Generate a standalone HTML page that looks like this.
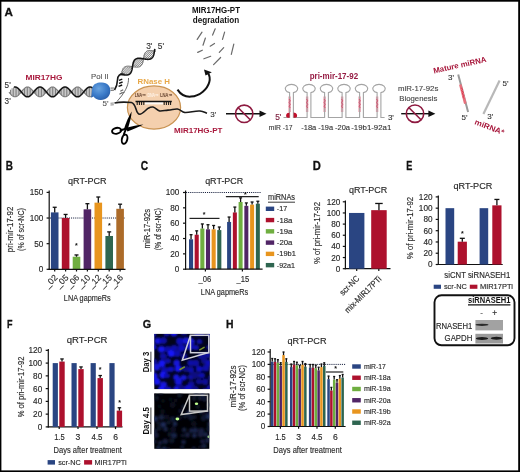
<!DOCTYPE html><html><head><meta charset="utf-8"><style>html,body{margin:0;padding:0;background:#fff;}body{position:relative;width:520px;height:472px;overflow:hidden;}svg{display:block;filter:blur(0.3px);}text{font-family:"Liberation Sans", sans-serif;}</style></head><body>
<svg width="520" height="472" viewBox="0 0 520 472">
<rect x="0.00" y="0.00" width="520.00" height="472.00" fill="#fff" />
<text x="5.80" y="169.90" font-size="12" fill="#111" font-weight="bold" textLength="7.2" lengthAdjust="spacingAndGlyphs" style="stroke:#111;stroke-width:0.3" >B</text>
<text x="87.30" y="183.90" font-size="8.8" fill="#2a2a2a" text-anchor="middle" textLength="38.6" lengthAdjust="spacingAndGlyphs" style="stroke:#2a2a2a;stroke-width:0.15" >qRT-PCR</text>
<line x1="50.00" y1="218.03" x2="125.50" y2="218.03" stroke="#1a2340" stroke-width="1.0" stroke-dasharray="1.1 1.0"/>
<rect x="50.90" y="212.39" width="7.60" height="56.91" fill="#2a4582" />
<line x1="54.70" y1="212.39" x2="54.70" y2="207.27" stroke="#111" stroke-width="1.3" />
<line x1="52.70" y1="207.27" x2="56.70" y2="207.27" stroke="#111" stroke-width="1.3" />
<rect x="61.80" y="218.03" width="7.60" height="51.27" fill="#ad112d" />
<line x1="65.60" y1="218.03" x2="65.60" y2="214.44" stroke="#111" stroke-width="1.3" />
<line x1="63.60" y1="214.44" x2="67.60" y2="214.44" stroke="#111" stroke-width="1.3" />
<rect x="72.70" y="256.74" width="7.60" height="12.56" fill="#6fae40" />
<line x1="76.50" y1="256.74" x2="76.50" y2="254.95" stroke="#111" stroke-width="1.3" />
<line x1="74.50" y1="254.95" x2="78.50" y2="254.95" stroke="#111" stroke-width="1.3" />
<rect x="83.60" y="209.32" width="7.60" height="59.98" fill="#512566" />
<line x1="87.40" y1="209.32" x2="87.40" y2="203.68" stroke="#111" stroke-width="1.3" />
<line x1="85.40" y1="203.68" x2="89.40" y2="203.68" stroke="#111" stroke-width="1.3" />
<rect x="94.50" y="202.65" width="7.60" height="66.65" fill="#e8951e" />
<line x1="98.30" y1="202.65" x2="98.30" y2="197.01" stroke="#111" stroke-width="1.3" />
<line x1="96.30" y1="197.01" x2="100.30" y2="197.01" stroke="#111" stroke-width="1.3" />
<rect x="105.40" y="235.98" width="7.60" height="33.32" fill="#2e6550" />
<line x1="109.20" y1="235.98" x2="109.20" y2="231.88" stroke="#111" stroke-width="1.3" />
<line x1="107.20" y1="231.88" x2="111.20" y2="231.88" stroke="#111" stroke-width="1.3" />
<rect x="116.30" y="208.81" width="7.60" height="60.49" fill="#ac6b29" />
<line x1="120.10" y1="208.81" x2="120.10" y2="204.19" stroke="#111" stroke-width="1.3" />
<line x1="118.10" y1="204.19" x2="122.10" y2="204.19" stroke="#111" stroke-width="1.3" />
<line x1="49.20" y1="190.40" x2="49.20" y2="269.90" stroke="#111" stroke-width="1.2" />
<line x1="46.60" y1="192.40" x2="49.20" y2="192.40" stroke="#111" stroke-width="1.2" />
<text x="43.40" y="195.35" font-size="8.2" fill="#2a2a2a" text-anchor="end" style="stroke:#2a2a2a;stroke-width:0.15" >150</text>
<line x1="46.60" y1="218.03" x2="49.20" y2="218.03" stroke="#111" stroke-width="1.2" />
<text x="43.40" y="220.99" font-size="8.2" fill="#2a2a2a" text-anchor="end" style="stroke:#2a2a2a;stroke-width:0.15" >100</text>
<line x1="46.60" y1="243.67" x2="49.20" y2="243.67" stroke="#111" stroke-width="1.2" />
<text x="43.40" y="246.62" font-size="8.2" fill="#2a2a2a" text-anchor="end" style="stroke:#2a2a2a;stroke-width:0.15" >50</text>
<line x1="46.60" y1="269.30" x2="49.20" y2="269.30" stroke="#111" stroke-width="1.2" />
<text x="43.40" y="272.25" font-size="8.2" fill="#2a2a2a" text-anchor="end" style="stroke:#2a2a2a;stroke-width:0.15" >0</text>
<line x1="48.60" y1="269.30" x2="125.50" y2="269.30" stroke="#111" stroke-width="1.2" />
<line x1="54.70" y1="269.30" x2="54.70" y2="271.50" stroke="#111" stroke-width="1.2" />
<line x1="65.60" y1="269.30" x2="65.60" y2="271.50" stroke="#111" stroke-width="1.2" />
<line x1="76.50" y1="269.30" x2="76.50" y2="271.50" stroke="#111" stroke-width="1.2" />
<line x1="87.40" y1="269.30" x2="87.40" y2="271.50" stroke="#111" stroke-width="1.2" />
<line x1="98.30" y1="269.30" x2="98.30" y2="271.50" stroke="#111" stroke-width="1.2" />
<line x1="109.20" y1="269.30" x2="109.20" y2="271.50" stroke="#111" stroke-width="1.2" />
<line x1="120.10" y1="269.30" x2="120.10" y2="271.50" stroke="#111" stroke-width="1.2" />
<text x="76.40" y="247.60" font-size="7" fill="#111" text-anchor="middle" font-weight="bold" >*</text>
<text x="109.40" y="228.30" font-size="7" fill="#111" text-anchor="middle" font-weight="bold" >*</text>
<text x="58.15" y="278.20" font-size="8.6" fill="#2a2a2a" text-anchor="end" transform="rotate(-45 58.15 278.20)" style="stroke:#2a2a2a;stroke-width:0.15" >_02</text>
<text x="69.05" y="278.20" font-size="8.6" fill="#2a2a2a" text-anchor="end" transform="rotate(-45 69.05 278.20)" style="stroke:#2a2a2a;stroke-width:0.15" >_05</text>
<text x="79.95" y="278.20" font-size="8.6" fill="#2a2a2a" text-anchor="end" transform="rotate(-45 79.95 278.20)" style="stroke:#2a2a2a;stroke-width:0.15" >_06</text>
<text x="90.85" y="278.20" font-size="8.6" fill="#2a2a2a" text-anchor="end" transform="rotate(-45 90.85 278.20)" style="stroke:#2a2a2a;stroke-width:0.15" >_10</text>
<text x="101.75" y="278.20" font-size="8.6" fill="#2a2a2a" text-anchor="end" transform="rotate(-45 101.75 278.20)" style="stroke:#2a2a2a;stroke-width:0.15" >_12</text>
<text x="112.65" y="278.20" font-size="8.6" fill="#2a2a2a" text-anchor="end" transform="rotate(-45 112.65 278.20)" style="stroke:#2a2a2a;stroke-width:0.15" >_15</text>
<text x="123.55" y="278.20" font-size="8.6" fill="#2a2a2a" text-anchor="end" transform="rotate(-45 123.55 278.20)" style="stroke:#2a2a2a;stroke-width:0.15" >_16</text>
<text x="87.30" y="300.50" font-size="9" fill="#2a2a2a" text-anchor="middle" textLength="46.9" lengthAdjust="spacingAndGlyphs" style="stroke:#2a2a2a;stroke-width:0.15" >LNA gapmeRs</text>
<text x="13.30" y="229.40" font-size="9" fill="#2a2a2a" text-anchor="middle" textLength="45.5" lengthAdjust="spacingAndGlyphs" transform="rotate(-90 13.30 229.40)" style="stroke:#2a2a2a;stroke-width:0.15" >pri-mir-17-92</text>
<text x="23.70" y="229.50" font-size="9" fill="#2a2a2a" text-anchor="middle" textLength="42.8" lengthAdjust="spacingAndGlyphs" transform="rotate(-90 23.70 229.50)" style="stroke:#2a2a2a;stroke-width:0.15" >(% of scr-NC)</text>
<text x="140.80" y="169.90" font-size="12" fill="#111" font-weight="bold" textLength="7.4" lengthAdjust="spacingAndGlyphs" style="stroke:#111;stroke-width:0.3" >C</text>
<text x="224.20" y="184.20" font-size="8.8" fill="#2a2a2a" text-anchor="middle" textLength="38.1" lengthAdjust="spacingAndGlyphs" style="stroke:#2a2a2a;stroke-width:0.15" >qRT-PCR</text>
<line x1="186.00" y1="192.50" x2="261.00" y2="192.50" stroke="#1a2340" stroke-width="1.0" stroke-dasharray="1.1 1.0"/>
<rect x="189.00" y="239.29" width="4.10" height="29.91" fill="#2a4582" />
<line x1="191.05" y1="239.29" x2="191.05" y2="234.69" stroke="#111" stroke-width="1.3" />
<line x1="189.55" y1="234.69" x2="192.55" y2="234.69" stroke="#111" stroke-width="1.3" />
<rect x="227.10" y="221.95" width="4.00" height="47.25" fill="#2a4582" />
<line x1="229.10" y1="221.95" x2="229.10" y2="217.04" stroke="#111" stroke-width="1.3" />
<line x1="227.60" y1="217.04" x2="230.60" y2="217.04" stroke="#111" stroke-width="1.3" />
<rect x="194.65" y="234.69" width="4.10" height="34.51" fill="#ad112d" />
<line x1="196.70" y1="234.69" x2="196.70" y2="230.85" stroke="#111" stroke-width="1.3" />
<line x1="195.20" y1="230.85" x2="198.20" y2="230.85" stroke="#111" stroke-width="1.3" />
<rect x="232.85" y="212.44" width="4.00" height="56.76" fill="#ad112d" />
<line x1="234.85" y1="212.44" x2="234.85" y2="207.07" stroke="#111" stroke-width="1.3" />
<line x1="233.35" y1="207.07" x2="236.35" y2="207.07" stroke="#111" stroke-width="1.3" />
<rect x="200.30" y="228.55" width="4.10" height="40.65" fill="#6fae40" />
<line x1="202.35" y1="228.55" x2="202.35" y2="223.95" stroke="#111" stroke-width="1.3" />
<line x1="200.85" y1="223.95" x2="203.85" y2="223.95" stroke="#111" stroke-width="1.3" />
<rect x="238.60" y="202.01" width="4.00" height="67.19" fill="#6fae40" />
<line x1="240.60" y1="202.01" x2="240.60" y2="197.87" stroke="#111" stroke-width="1.3" />
<line x1="239.10" y1="197.87" x2="242.10" y2="197.87" stroke="#111" stroke-width="1.3" />
<rect x="205.95" y="229.32" width="4.10" height="39.88" fill="#512566" />
<line x1="208.00" y1="229.32" x2="208.00" y2="224.71" stroke="#111" stroke-width="1.3" />
<line x1="206.50" y1="224.71" x2="209.50" y2="224.71" stroke="#111" stroke-width="1.3" />
<rect x="244.35" y="205.85" width="4.00" height="63.35" fill="#512566" />
<line x1="246.35" y1="205.85" x2="246.35" y2="202.93" stroke="#111" stroke-width="1.3" />
<line x1="244.85" y1="202.93" x2="247.85" y2="202.93" stroke="#111" stroke-width="1.3" />
<rect x="211.60" y="229.32" width="4.10" height="39.88" fill="#e8951e" />
<line x1="213.65" y1="229.32" x2="213.65" y2="225.48" stroke="#111" stroke-width="1.3" />
<line x1="212.15" y1="225.48" x2="215.15" y2="225.48" stroke="#111" stroke-width="1.3" />
<rect x="250.10" y="204.62" width="4.00" height="64.58" fill="#e8951e" />
<line x1="252.10" y1="204.62" x2="252.10" y2="202.01" stroke="#111" stroke-width="1.3" />
<line x1="250.60" y1="202.01" x2="253.60" y2="202.01" stroke="#111" stroke-width="1.3" />
<rect x="217.25" y="230.08" width="4.10" height="39.12" fill="#2e6550" />
<line x1="219.30" y1="230.08" x2="219.30" y2="227.01" stroke="#111" stroke-width="1.3" />
<line x1="217.80" y1="227.01" x2="220.80" y2="227.01" stroke="#111" stroke-width="1.3" />
<rect x="255.85" y="203.70" width="4.00" height="65.50" fill="#2e6550" />
<line x1="257.85" y1="203.70" x2="257.85" y2="201.24" stroke="#111" stroke-width="1.3" />
<line x1="256.35" y1="201.24" x2="259.35" y2="201.24" stroke="#111" stroke-width="1.3" />
<line x1="185.60" y1="190.60" x2="185.60" y2="269.80" stroke="#111" stroke-width="1.2" />
<line x1="183.00" y1="192.50" x2="185.60" y2="192.50" stroke="#111" stroke-width="1.2" />
<text x="179.40" y="195.45" font-size="8.2" fill="#2a2a2a" text-anchor="end" style="stroke:#2a2a2a;stroke-width:0.15" >100</text>
<line x1="183.00" y1="207.84" x2="185.60" y2="207.84" stroke="#111" stroke-width="1.2" />
<text x="179.40" y="210.79" font-size="8.2" fill="#2a2a2a" text-anchor="end" style="stroke:#2a2a2a;stroke-width:0.15" >80</text>
<line x1="183.00" y1="223.18" x2="185.60" y2="223.18" stroke="#111" stroke-width="1.2" />
<text x="179.40" y="226.13" font-size="8.2" fill="#2a2a2a" text-anchor="end" style="stroke:#2a2a2a;stroke-width:0.15" >60</text>
<line x1="183.00" y1="238.52" x2="185.60" y2="238.52" stroke="#111" stroke-width="1.2" />
<text x="179.40" y="241.47" font-size="8.2" fill="#2a2a2a" text-anchor="end" style="stroke:#2a2a2a;stroke-width:0.15" >40</text>
<line x1="183.00" y1="253.86" x2="185.60" y2="253.86" stroke="#111" stroke-width="1.2" />
<text x="179.40" y="256.81" font-size="8.2" fill="#2a2a2a" text-anchor="end" style="stroke:#2a2a2a;stroke-width:0.15" >20</text>
<line x1="183.00" y1="269.20" x2="185.60" y2="269.20" stroke="#111" stroke-width="1.2" />
<text x="179.40" y="272.15" font-size="8.2" fill="#2a2a2a" text-anchor="end" style="stroke:#2a2a2a;stroke-width:0.15" >0</text>
<line x1="185.00" y1="269.20" x2="262.60" y2="269.20" stroke="#111" stroke-width="1.2" />
<line x1="205.40" y1="269.20" x2="205.40" y2="271.40" stroke="#111" stroke-width="1.2" />
<line x1="242.40" y1="269.20" x2="242.40" y2="271.40" stroke="#111" stroke-width="1.2" />
<line x1="189.50" y1="218.40" x2="219.50" y2="218.40" stroke="#222" stroke-width="1.2" />
<text x="204.20" y="217.40" font-size="7" fill="#111" text-anchor="middle" font-weight="bold" >*</text>
<line x1="225.90" y1="196.60" x2="258.70" y2="196.60" stroke="#222" stroke-width="1.2" />
<text x="245.40" y="196.60" font-size="7" fill="#111" text-anchor="middle" font-weight="bold" >*</text>
<text x="204.80" y="282.00" font-size="8.6" fill="#2a2a2a" text-anchor="middle" textLength="12.7" lengthAdjust="spacingAndGlyphs" style="stroke:#2a2a2a;stroke-width:0.15" >_06</text>
<text x="242.80" y="282.00" font-size="8.6" fill="#2a2a2a" text-anchor="middle" textLength="12.7" lengthAdjust="spacingAndGlyphs" style="stroke:#2a2a2a;stroke-width:0.15" >_15</text>
<text x="224.50" y="294.60" font-size="9" fill="#2a2a2a" text-anchor="middle" textLength="47.3" lengthAdjust="spacingAndGlyphs" style="stroke:#2a2a2a;stroke-width:0.15" >LNA gapmeRs</text>
<text x="149.90" y="228.60" font-size="9" fill="#2a2a2a" text-anchor="middle" textLength="39.6" lengthAdjust="spacingAndGlyphs" transform="rotate(-90 149.90 228.60)" style="stroke:#2a2a2a;stroke-width:0.15" >miR-17-92s</text>
<text x="160.60" y="229.20" font-size="9" fill="#2a2a2a" text-anchor="middle" textLength="42" lengthAdjust="spacingAndGlyphs" transform="rotate(-90 160.60 229.20)" style="stroke:#2a2a2a;stroke-width:0.15" >(% of scr-NC)</text>
<text x="268.00" y="199.80" font-size="8.6" fill="#2a2a2a" textLength="27" lengthAdjust="spacingAndGlyphs" style="stroke:#2a2a2a;stroke-width:0.15" >miRNAs</text>
<line x1="268.00" y1="202.20" x2="295.00" y2="202.20" stroke="#222" stroke-width="0.9" />
<rect x="265.80" y="206.60" width="8.40" height="4.40" fill="#2a4582" />
<text x="276.80" y="211.30" font-size="7.9" fill="#2a2a2a" textLength="10.4" lengthAdjust="spacingAndGlyphs" style="stroke:#2a2a2a;stroke-width:0.15" >-17</text>
<rect x="265.80" y="217.87" width="8.40" height="4.40" fill="#ad112d" />
<text x="276.80" y="222.57" font-size="7.9" fill="#2a2a2a" textLength="15.6" lengthAdjust="spacingAndGlyphs" style="stroke:#2a2a2a;stroke-width:0.15" >-18a</text>
<rect x="265.80" y="229.14" width="8.40" height="4.40" fill="#6fae40" />
<text x="276.80" y="233.84" font-size="7.9" fill="#2a2a2a" textLength="15.6" lengthAdjust="spacingAndGlyphs" style="stroke:#2a2a2a;stroke-width:0.15" >-19a</text>
<rect x="265.80" y="240.41" width="8.40" height="4.40" fill="#512566" />
<text x="276.80" y="245.11" font-size="7.9" fill="#2a2a2a" textLength="15.6" lengthAdjust="spacingAndGlyphs" style="stroke:#2a2a2a;stroke-width:0.15" >-20a</text>
<rect x="265.80" y="251.68" width="8.40" height="4.40" fill="#e8951e" />
<text x="276.80" y="256.38" font-size="7.9" fill="#2a2a2a" textLength="19.1" lengthAdjust="spacingAndGlyphs" style="stroke:#2a2a2a;stroke-width:0.15" >-19b1</text>
<rect x="265.80" y="262.95" width="8.40" height="4.40" fill="#2e6550" />
<text x="276.80" y="267.65" font-size="7.9" fill="#2a2a2a" textLength="18.2" lengthAdjust="spacingAndGlyphs" style="stroke:#2a2a2a;stroke-width:0.15" >-92a1</text>
<text x="312.80" y="169.80" font-size="12" fill="#111" font-weight="bold" textLength="8.1" lengthAdjust="spacingAndGlyphs" style="stroke:#111;stroke-width:0.3" >D</text>
<text x="368.20" y="192.70" font-size="8.8" fill="#2a2a2a" text-anchor="middle" textLength="38.3" lengthAdjust="spacingAndGlyphs" style="stroke:#2a2a2a;stroke-width:0.15" >qRT-PCR</text>
<line x1="345.40" y1="200.40" x2="345.40" y2="269.30" stroke="#111" stroke-width="1.2" />
<line x1="342.80" y1="201.80" x2="345.40" y2="201.80" stroke="#111" stroke-width="1.2" />
<text x="340.30" y="204.75" font-size="8.2" fill="#2a2a2a" text-anchor="end" style="stroke:#2a2a2a;stroke-width:0.15" >120</text>
<line x1="342.80" y1="212.95" x2="345.40" y2="212.95" stroke="#111" stroke-width="1.2" />
<text x="340.30" y="215.90" font-size="8.2" fill="#2a2a2a" text-anchor="end" style="stroke:#2a2a2a;stroke-width:0.15" >100</text>
<line x1="342.80" y1="224.10" x2="345.40" y2="224.10" stroke="#111" stroke-width="1.2" />
<text x="340.30" y="227.05" font-size="8.2" fill="#2a2a2a" text-anchor="end" style="stroke:#2a2a2a;stroke-width:0.15" >80</text>
<line x1="342.80" y1="235.25" x2="345.40" y2="235.25" stroke="#111" stroke-width="1.2" />
<text x="340.30" y="238.20" font-size="8.2" fill="#2a2a2a" text-anchor="end" style="stroke:#2a2a2a;stroke-width:0.15" >60</text>
<line x1="342.80" y1="246.40" x2="345.40" y2="246.40" stroke="#111" stroke-width="1.2" />
<text x="340.30" y="249.35" font-size="8.2" fill="#2a2a2a" text-anchor="end" style="stroke:#2a2a2a;stroke-width:0.15" >40</text>
<line x1="342.80" y1="257.55" x2="345.40" y2="257.55" stroke="#111" stroke-width="1.2" />
<text x="340.30" y="260.50" font-size="8.2" fill="#2a2a2a" text-anchor="end" style="stroke:#2a2a2a;stroke-width:0.15" >20</text>
<line x1="342.80" y1="268.70" x2="345.40" y2="268.70" stroke="#111" stroke-width="1.2" />
<text x="340.30" y="271.65" font-size="8.2" fill="#2a2a2a" text-anchor="end" style="stroke:#2a2a2a;stroke-width:0.15" >0</text>
<line x1="344.80" y1="268.70" x2="390.50" y2="268.70" stroke="#111" stroke-width="1.2" />
<line x1="356.70" y1="268.70" x2="356.70" y2="270.90" stroke="#111" stroke-width="1.2" />
<line x1="378.80" y1="268.70" x2="378.80" y2="270.90" stroke="#111" stroke-width="1.2" />
<rect x="349.00" y="212.95" width="15.40" height="55.75" fill="#2a4582" />
<rect x="371.20" y="210.16" width="15.50" height="58.54" fill="#ad112d" />
<line x1="378.95" y1="210.16" x2="378.95" y2="203.47" stroke="#111" stroke-width="1.3" />
<line x1="375.20" y1="203.47" x2="382.70" y2="203.47" stroke="#111" stroke-width="1.3" />
<text x="319.60" y="233.00" font-size="9.5" fill="#2a2a2a" text-anchor="middle" textLength="62" lengthAdjust="spacingAndGlyphs" transform="rotate(-90 319.60 233.00)" style="stroke:#2a2a2a;stroke-width:0.15" >% of pri-mir-17-92</text>
<text x="360.00" y="279.00" font-size="8.6" fill="#2a2a2a" text-anchor="end" textLength="24" lengthAdjust="spacingAndGlyphs" transform="rotate(-45 360.00 279.00)" style="stroke:#2a2a2a;stroke-width:0.15" >scr-NC</text>
<text x="382.00" y="279.50" font-size="8.6" fill="#2a2a2a" text-anchor="end" textLength="48" lengthAdjust="spacingAndGlyphs" transform="rotate(-45 382.00 279.50)" style="stroke:#2a2a2a;stroke-width:0.15" >mix-MIR17PTi</text>
<text x="406.30" y="169.80" font-size="12" fill="#111" font-weight="bold" textLength="6.1" lengthAdjust="spacingAndGlyphs" style="stroke:#111;stroke-width:0.3" >E</text>
<text x="472.90" y="188.80" font-size="8.8" fill="#2a2a2a" text-anchor="middle" textLength="38.8" lengthAdjust="spacingAndGlyphs" style="stroke:#2a2a2a;stroke-width:0.15" >qRT-PCR</text>
<line x1="438.30" y1="195.50" x2="438.30" y2="265.10" stroke="#111" stroke-width="1.2" />
<line x1="435.70" y1="196.90" x2="438.30" y2="196.90" stroke="#111" stroke-width="1.2" />
<text x="432.50" y="199.85" font-size="8.2" fill="#2a2a2a" text-anchor="end" style="stroke:#2a2a2a;stroke-width:0.15" >120</text>
<line x1="435.70" y1="208.17" x2="438.30" y2="208.17" stroke="#111" stroke-width="1.2" />
<text x="432.50" y="211.12" font-size="8.2" fill="#2a2a2a" text-anchor="end" style="stroke:#2a2a2a;stroke-width:0.15" >100</text>
<line x1="435.70" y1="219.43" x2="438.30" y2="219.43" stroke="#111" stroke-width="1.2" />
<text x="432.50" y="222.39" font-size="8.2" fill="#2a2a2a" text-anchor="end" style="stroke:#2a2a2a;stroke-width:0.15" >80</text>
<line x1="435.70" y1="230.70" x2="438.30" y2="230.70" stroke="#111" stroke-width="1.2" />
<text x="432.50" y="233.65" font-size="8.2" fill="#2a2a2a" text-anchor="end" style="stroke:#2a2a2a;stroke-width:0.15" >60</text>
<line x1="435.70" y1="241.97" x2="438.30" y2="241.97" stroke="#111" stroke-width="1.2" />
<text x="432.50" y="244.92" font-size="8.2" fill="#2a2a2a" text-anchor="end" style="stroke:#2a2a2a;stroke-width:0.15" >40</text>
<line x1="435.70" y1="253.23" x2="438.30" y2="253.23" stroke="#111" stroke-width="1.2" />
<text x="432.50" y="256.19" font-size="8.2" fill="#2a2a2a" text-anchor="end" style="stroke:#2a2a2a;stroke-width:0.15" >20</text>
<line x1="435.70" y1="264.50" x2="438.30" y2="264.50" stroke="#111" stroke-width="1.2" />
<text x="432.50" y="267.45" font-size="8.2" fill="#2a2a2a" text-anchor="end" style="stroke:#2a2a2a;stroke-width:0.15" >0</text>
<line x1="437.70" y1="264.50" x2="502.70" y2="264.50" stroke="#111" stroke-width="1.2" />
<rect x="445.50" y="208.17" width="8.70" height="56.33" fill="#2a4582" />
<rect x="457.70" y="241.69" width="9.20" height="22.81" fill="#ad112d" />
<line x1="462.30" y1="241.69" x2="462.30" y2="238.31" stroke="#111" stroke-width="1.3" />
<line x1="459.80" y1="238.31" x2="464.80" y2="238.31" stroke="#111" stroke-width="1.3" />
<rect x="479.60" y="208.17" width="8.60" height="56.33" fill="#2a4582" />
<rect x="492.30" y="205.35" width="9.20" height="59.15" fill="#ad112d" />
<line x1="496.90" y1="205.35" x2="496.90" y2="199.44" stroke="#111" stroke-width="1.3" />
<line x1="494.40" y1="199.44" x2="499.40" y2="199.44" stroke="#111" stroke-width="1.3" />
<text x="462.30" y="236.00" font-size="7" fill="#111" text-anchor="middle" font-weight="bold" >*</text>
<text x="477.30" y="277.70" font-size="8.6" fill="#2a2a2a" text-anchor="middle" textLength="66" lengthAdjust="spacingAndGlyphs" style="stroke:#2a2a2a;stroke-width:0.15" >siCNT siRNASEH1</text>
<text x="413.20" y="228.00" font-size="9.5" fill="#2a2a2a" text-anchor="middle" textLength="62.3" lengthAdjust="spacingAndGlyphs" transform="rotate(-90 413.20 228.00)" style="stroke:#2a2a2a;stroke-width:0.15" >% of pri-mir-17-92</text>
<rect x="433.70" y="284.70" width="7.30" height="4.10" fill="#2a4582" />
<text x="443.90" y="288.80" font-size="8" fill="#2a2a2a" textLength="23" lengthAdjust="spacingAndGlyphs" style="stroke:#2a2a2a;stroke-width:0.15" >scr-NC</text>
<rect x="469.80" y="284.70" width="7.60" height="4.10" fill="#ad112d" />
<text x="479.90" y="288.80" font-size="8" fill="#2a2a2a" textLength="33" lengthAdjust="spacingAndGlyphs" style="stroke:#2a2a2a;stroke-width:0.15" >MIR17PTi</text>
<rect x="434.5" y="295.3" width="80" height="50" rx="7" ry="7" fill="none" stroke="#111" stroke-width="1.9"/>
<text x="489.20" y="302.70" font-size="8.4" fill="#111" text-anchor="middle" font-weight="bold" textLength="42.4" lengthAdjust="spacingAndGlyphs" >siRNASEH1</text>
<line x1="468.00" y1="304.80" x2="510.40" y2="304.80" stroke="#111" stroke-width="1.3" />
<text x="481.50" y="314.80" font-size="8" fill="#2a2a2a" text-anchor="middle" style="stroke:#2a2a2a;stroke-width:0.15" >-</text>
<text x="494.60" y="315.50" font-size="8.4" fill="#2a2a2a" text-anchor="middle" style="stroke:#2a2a2a;stroke-width:0.15" >+</text>
<text x="472.30" y="328.80" font-size="8.8" fill="#2a2a2a" text-anchor="end" textLength="36.3" lengthAdjust="spacingAndGlyphs" style="stroke:#2a2a2a;stroke-width:0.15" >RNASEH1</text>
<text x="472.30" y="341.20" font-size="8.8" fill="#2a2a2a" text-anchor="end" textLength="27.7" lengthAdjust="spacingAndGlyphs" style="stroke:#2a2a2a;stroke-width:0.15" >GAPDH</text>
<rect x="475.40" y="320.00" width="27.60" height="10.40" fill="#a2a2a2" />
<rect x="475.40" y="333.80" width="27.60" height="9.70" fill="#9a9a9a" />
<ellipse cx="482" cy="324.8" rx="6.5" ry="1.1" fill="#2a2a2a"/>
<ellipse cx="482" cy="338.5" rx="6.2" ry="1.5" fill="#1a1a1a"/>
<ellipse cx="496.5" cy="338.3" rx="5.8" ry="1.5" fill="#1a1a1a"/>
<text x="6.90" y="327.90" font-size="11.3" fill="#111" font-weight="bold" textLength="5.5" lengthAdjust="spacingAndGlyphs" style="stroke:#111;stroke-width:0.3" >F</text>
<text x="87.10" y="342.60" font-size="8.8" fill="#2a2a2a" text-anchor="middle" textLength="40.6" lengthAdjust="spacingAndGlyphs" style="stroke:#2a2a2a;stroke-width:0.15" >qRT-PCR</text>
<line x1="48.30" y1="349.00" x2="48.30" y2="427.50" stroke="#111" stroke-width="1.2" />
<line x1="45.70" y1="350.34" x2="48.30" y2="350.34" stroke="#111" stroke-width="1.2" />
<text x="42.20" y="353.29" font-size="8.2" fill="#2a2a2a" text-anchor="end" style="stroke:#2a2a2a;stroke-width:0.15" >120</text>
<line x1="45.70" y1="363.10" x2="48.30" y2="363.10" stroke="#111" stroke-width="1.2" />
<text x="42.20" y="366.05" font-size="8.2" fill="#2a2a2a" text-anchor="end" style="stroke:#2a2a2a;stroke-width:0.15" >100</text>
<line x1="45.70" y1="375.86" x2="48.30" y2="375.86" stroke="#111" stroke-width="1.2" />
<text x="42.20" y="378.81" font-size="8.2" fill="#2a2a2a" text-anchor="end" style="stroke:#2a2a2a;stroke-width:0.15" >80</text>
<line x1="45.70" y1="388.62" x2="48.30" y2="388.62" stroke="#111" stroke-width="1.2" />
<text x="42.20" y="391.57" font-size="8.2" fill="#2a2a2a" text-anchor="end" style="stroke:#2a2a2a;stroke-width:0.15" >60</text>
<line x1="45.70" y1="401.38" x2="48.30" y2="401.38" stroke="#111" stroke-width="1.2" />
<text x="42.20" y="404.33" font-size="8.2" fill="#2a2a2a" text-anchor="end" style="stroke:#2a2a2a;stroke-width:0.15" >40</text>
<line x1="45.70" y1="414.14" x2="48.30" y2="414.14" stroke="#111" stroke-width="1.2" />
<text x="42.20" y="417.09" font-size="8.2" fill="#2a2a2a" text-anchor="end" style="stroke:#2a2a2a;stroke-width:0.15" >20</text>
<line x1="45.70" y1="426.90" x2="48.30" y2="426.90" stroke="#111" stroke-width="1.2" />
<text x="42.20" y="429.85" font-size="8.2" fill="#2a2a2a" text-anchor="end" style="stroke:#2a2a2a;stroke-width:0.15" >0</text>
<line x1="47.70" y1="426.90" x2="122.50" y2="426.90" stroke="#111" stroke-width="1.2" />
<line x1="59.20" y1="426.90" x2="59.20" y2="429.10" stroke="#111" stroke-width="1.2" />
<line x1="78.00" y1="426.90" x2="78.00" y2="429.10" stroke="#111" stroke-width="1.2" />
<line x1="97.00" y1="426.90" x2="97.00" y2="429.10" stroke="#111" stroke-width="1.2" />
<line x1="115.50" y1="426.90" x2="115.50" y2="429.10" stroke="#111" stroke-width="1.2" />
<rect x="52.70" y="363.10" width="5.20" height="63.80" fill="#2a4582" />
<rect x="59.30" y="361.57" width="5.40" height="65.33" fill="#ad112d" />
<line x1="62.00" y1="361.57" x2="62.00" y2="358.95" stroke="#111" stroke-width="1.3" />
<line x1="60.25" y1="358.95" x2="63.75" y2="358.95" stroke="#111" stroke-width="1.3" />
<rect x="71.50" y="363.10" width="5.20" height="63.80" fill="#2a4582" />
<rect x="78.30" y="369.10" width="5.40" height="57.80" fill="#ad112d" />
<line x1="81.00" y1="369.10" x2="81.00" y2="366.93" stroke="#111" stroke-width="1.3" />
<line x1="79.25" y1="366.93" x2="82.75" y2="366.93" stroke="#111" stroke-width="1.3" />
<rect x="90.60" y="363.10" width="5.20" height="63.80" fill="#2a4582" />
<rect x="97.50" y="378.09" width="5.40" height="48.81" fill="#ad112d" />
<line x1="100.20" y1="378.09" x2="100.20" y2="375.54" stroke="#111" stroke-width="1.3" />
<line x1="98.45" y1="375.54" x2="101.95" y2="375.54" stroke="#111" stroke-width="1.3" />
<rect x="109.40" y="363.10" width="5.20" height="63.80" fill="#2a4582" />
<rect x="116.70" y="410.63" width="5.40" height="16.27" fill="#ad112d" />
<line x1="119.40" y1="410.63" x2="119.40" y2="407.76" stroke="#111" stroke-width="1.3" />
<line x1="117.65" y1="407.76" x2="121.15" y2="407.76" stroke="#111" stroke-width="1.3" />
<text x="100.20" y="372.00" font-size="7" fill="#111" text-anchor="middle" font-weight="bold" >*</text>
<text x="119.50" y="404.50" font-size="7" fill="#111" text-anchor="middle" font-weight="bold" >*</text>
<text x="59.40" y="439.80" font-size="8.8" fill="#2a2a2a" text-anchor="middle" textLength="10.5" lengthAdjust="spacingAndGlyphs" style="stroke:#2a2a2a;stroke-width:0.15" >1.5</text>
<text x="77.90" y="439.80" font-size="8.8" fill="#2a2a2a" text-anchor="middle" textLength="4.8" lengthAdjust="spacingAndGlyphs" style="stroke:#2a2a2a;stroke-width:0.15" >3</text>
<text x="97.00" y="439.80" font-size="8.8" fill="#2a2a2a" text-anchor="middle" textLength="11" lengthAdjust="spacingAndGlyphs" style="stroke:#2a2a2a;stroke-width:0.15" >4.5</text>
<text x="115.70" y="439.80" font-size="8.8" fill="#2a2a2a" text-anchor="middle" textLength="4.8" lengthAdjust="spacingAndGlyphs" style="stroke:#2a2a2a;stroke-width:0.15" >6</text>
<text x="87.70" y="452.80" font-size="9.8" fill="#2a2a2a" text-anchor="middle" textLength="68.3" lengthAdjust="spacingAndGlyphs" style="stroke:#2a2a2a;stroke-width:0.15" >Days after treatment</text>
<rect x="47.60" y="460.10" width="7.40" height="4.50" fill="#2a4582" />
<text x="58.20" y="464.60" font-size="8" fill="#2a2a2a" textLength="22.6" lengthAdjust="spacingAndGlyphs" style="stroke:#2a2a2a;stroke-width:0.15" >scr-NC</text>
<rect x="84.10" y="460.10" width="8.00" height="4.50" fill="#ad112d" />
<text x="94.40" y="464.60" font-size="8" fill="#2a2a2a" textLength="32.3" lengthAdjust="spacingAndGlyphs" style="stroke:#2a2a2a;stroke-width:0.15" >MIR17PTi</text>
<text x="24.20" y="386.90" font-size="9.5" fill="#2a2a2a" text-anchor="middle" textLength="60.8" lengthAdjust="spacingAndGlyphs" transform="rotate(-90 24.20 386.90)" style="stroke:#2a2a2a;stroke-width:0.15" >% of pri-mir-17-92</text>
<text x="226.10" y="327.90" font-size="11.3" fill="#111" font-weight="bold" textLength="7.5" lengthAdjust="spacingAndGlyphs" style="stroke:#111;stroke-width:0.3" >H</text>
<text x="307.00" y="344.20" font-size="8.8" fill="#2a2a2a" text-anchor="middle" textLength="39" lengthAdjust="spacingAndGlyphs" style="stroke:#2a2a2a;stroke-width:0.15" >qRT-PCR</text>
<line x1="270.50" y1="364.40" x2="346.00" y2="364.40" stroke="#1a2340" stroke-width="1.0" stroke-dasharray="1.1 1.0"/>
<rect x="271.00" y="361.61" width="2.50" height="64.89" fill="#2a4582" />
<line x1="272.25" y1="361.61" x2="272.25" y2="358.50" stroke="#111" stroke-width="1.3" />
<line x1="271.25" y1="358.50" x2="273.25" y2="358.50" stroke="#111" stroke-width="1.3" />
<rect x="273.82" y="361.92" width="2.50" height="64.58" fill="#ad112d" />
<line x1="275.07" y1="361.92" x2="275.07" y2="358.81" stroke="#111" stroke-width="1.3" />
<line x1="274.07" y1="358.81" x2="276.07" y2="358.81" stroke="#111" stroke-width="1.3" />
<rect x="276.64" y="362.79" width="2.50" height="63.71" fill="#6fae40" />
<line x1="277.89" y1="362.79" x2="277.89" y2="359.68" stroke="#111" stroke-width="1.3" />
<line x1="276.89" y1="359.68" x2="278.89" y2="359.68" stroke="#111" stroke-width="1.3" />
<rect x="279.46" y="365.83" width="2.50" height="60.67" fill="#512566" />
<line x1="280.71" y1="365.83" x2="280.71" y2="362.72" stroke="#111" stroke-width="1.3" />
<line x1="279.71" y1="362.72" x2="281.71" y2="362.72" stroke="#111" stroke-width="1.3" />
<rect x="282.28" y="355.08" width="2.50" height="71.42" fill="#e8951e" />
<line x1="283.53" y1="355.08" x2="283.53" y2="351.98" stroke="#111" stroke-width="1.3" />
<line x1="282.53" y1="351.98" x2="284.53" y2="351.98" stroke="#111" stroke-width="1.3" />
<rect x="285.10" y="361.92" width="2.50" height="64.58" fill="#2e6550" />
<line x1="286.35" y1="361.92" x2="286.35" y2="358.81" stroke="#111" stroke-width="1.3" />
<line x1="285.35" y1="358.81" x2="287.35" y2="358.81" stroke="#111" stroke-width="1.3" />
<rect x="290.00" y="367.13" width="2.50" height="59.37" fill="#2a4582" />
<line x1="291.25" y1="367.13" x2="291.25" y2="364.03" stroke="#111" stroke-width="1.3" />
<line x1="290.25" y1="364.03" x2="292.25" y2="364.03" stroke="#111" stroke-width="1.3" />
<rect x="292.82" y="364.59" width="2.50" height="61.91" fill="#ad112d" />
<line x1="294.07" y1="364.59" x2="294.07" y2="361.48" stroke="#111" stroke-width="1.3" />
<line x1="293.07" y1="361.48" x2="295.07" y2="361.48" stroke="#111" stroke-width="1.3" />
<rect x="295.64" y="365.33" width="2.50" height="61.17" fill="#6fae40" />
<line x1="296.89" y1="365.33" x2="296.89" y2="362.23" stroke="#111" stroke-width="1.3" />
<line x1="295.89" y1="362.23" x2="297.89" y2="362.23" stroke="#111" stroke-width="1.3" />
<rect x="298.46" y="368.56" width="2.50" height="57.94" fill="#512566" />
<line x1="299.71" y1="368.56" x2="299.71" y2="365.46" stroke="#111" stroke-width="1.3" />
<line x1="298.71" y1="365.46" x2="300.71" y2="365.46" stroke="#111" stroke-width="1.3" />
<rect x="301.28" y="364.59" width="2.50" height="61.91" fill="#e8951e" />
<line x1="302.53" y1="364.59" x2="302.53" y2="361.48" stroke="#111" stroke-width="1.3" />
<line x1="301.53" y1="361.48" x2="303.53" y2="361.48" stroke="#111" stroke-width="1.3" />
<rect x="304.10" y="366.70" width="2.50" height="59.80" fill="#2e6550" />
<line x1="305.35" y1="366.70" x2="305.35" y2="363.59" stroke="#111" stroke-width="1.3" />
<line x1="304.35" y1="363.59" x2="306.35" y2="363.59" stroke="#111" stroke-width="1.3" />
<rect x="308.90" y="367.63" width="2.50" height="58.87" fill="#2a4582" />
<line x1="310.15" y1="367.63" x2="310.15" y2="364.52" stroke="#111" stroke-width="1.3" />
<line x1="309.15" y1="364.52" x2="311.15" y2="364.52" stroke="#111" stroke-width="1.3" />
<rect x="311.72" y="367.63" width="2.50" height="58.87" fill="#ad112d" />
<line x1="312.97" y1="367.63" x2="312.97" y2="364.52" stroke="#111" stroke-width="1.3" />
<line x1="311.97" y1="364.52" x2="313.97" y2="364.52" stroke="#111" stroke-width="1.3" />
<rect x="314.54" y="368.31" width="2.50" height="58.19" fill="#6fae40" />
<line x1="315.79" y1="368.31" x2="315.79" y2="365.21" stroke="#111" stroke-width="1.3" />
<line x1="314.79" y1="365.21" x2="316.79" y2="365.21" stroke="#111" stroke-width="1.3" />
<rect x="317.36" y="370.36" width="2.50" height="56.14" fill="#512566" />
<line x1="318.61" y1="370.36" x2="318.61" y2="367.26" stroke="#111" stroke-width="1.3" />
<line x1="317.61" y1="367.26" x2="319.61" y2="367.26" stroke="#111" stroke-width="1.3" />
<rect x="320.18" y="367.13" width="2.50" height="59.37" fill="#e8951e" />
<line x1="321.43" y1="367.13" x2="321.43" y2="364.03" stroke="#111" stroke-width="1.3" />
<line x1="320.43" y1="364.03" x2="322.43" y2="364.03" stroke="#111" stroke-width="1.3" />
<rect x="323.00" y="365.89" width="2.50" height="60.61" fill="#2e6550" />
<line x1="324.25" y1="365.89" x2="324.25" y2="362.79" stroke="#111" stroke-width="1.3" />
<line x1="323.25" y1="362.79" x2="325.25" y2="362.79" stroke="#111" stroke-width="1.3" />
<rect x="327.30" y="379.18" width="2.50" height="47.32" fill="#2a4582" />
<line x1="328.55" y1="379.18" x2="328.55" y2="376.07" stroke="#111" stroke-width="1.3" />
<line x1="327.55" y1="376.07" x2="329.55" y2="376.07" stroke="#111" stroke-width="1.3" />
<rect x="330.12" y="390.48" width="2.50" height="36.02" fill="#ad112d" />
<line x1="331.37" y1="390.48" x2="331.37" y2="387.38" stroke="#111" stroke-width="1.3" />
<line x1="330.37" y1="387.38" x2="332.37" y2="387.38" stroke="#111" stroke-width="1.3" />
<rect x="332.94" y="379.61" width="2.50" height="46.89" fill="#6fae40" />
<line x1="334.19" y1="379.61" x2="334.19" y2="376.51" stroke="#111" stroke-width="1.3" />
<line x1="333.19" y1="376.51" x2="335.19" y2="376.51" stroke="#111" stroke-width="1.3" />
<rect x="335.76" y="382.84" width="2.50" height="43.66" fill="#512566" />
<line x1="337.01" y1="382.84" x2="337.01" y2="379.74" stroke="#111" stroke-width="1.3" />
<line x1="336.01" y1="379.74" x2="338.01" y2="379.74" stroke="#111" stroke-width="1.3" />
<rect x="338.58" y="378.68" width="2.50" height="47.82" fill="#e8951e" />
<line x1="339.83" y1="378.68" x2="339.83" y2="375.58" stroke="#111" stroke-width="1.3" />
<line x1="338.83" y1="375.58" x2="340.83" y2="375.58" stroke="#111" stroke-width="1.3" />
<rect x="341.40" y="377.57" width="2.50" height="48.93" fill="#2e6550" />
<line x1="342.65" y1="377.57" x2="342.65" y2="374.46" stroke="#111" stroke-width="1.3" />
<line x1="341.65" y1="374.46" x2="343.65" y2="374.46" stroke="#111" stroke-width="1.3" />
<line x1="270.20" y1="348.90" x2="270.20" y2="427.10" stroke="#111" stroke-width="1.2" />
<line x1="267.60" y1="351.98" x2="270.20" y2="351.98" stroke="#111" stroke-width="1.2" />
<text x="265.30" y="354.93" font-size="8.2" fill="#2a2a2a" text-anchor="end" style="stroke:#2a2a2a;stroke-width:0.15" >120</text>
<line x1="267.60" y1="364.40" x2="270.20" y2="364.40" stroke="#111" stroke-width="1.2" />
<text x="265.30" y="367.35" font-size="8.2" fill="#2a2a2a" text-anchor="end" style="stroke:#2a2a2a;stroke-width:0.15" >100</text>
<line x1="267.60" y1="376.82" x2="270.20" y2="376.82" stroke="#111" stroke-width="1.2" />
<text x="265.30" y="379.77" font-size="8.2" fill="#2a2a2a" text-anchor="end" style="stroke:#2a2a2a;stroke-width:0.15" >80</text>
<line x1="267.60" y1="389.24" x2="270.20" y2="389.24" stroke="#111" stroke-width="1.2" />
<text x="265.30" y="392.19" font-size="8.2" fill="#2a2a2a" text-anchor="end" style="stroke:#2a2a2a;stroke-width:0.15" >60</text>
<line x1="267.60" y1="401.66" x2="270.20" y2="401.66" stroke="#111" stroke-width="1.2" />
<text x="265.30" y="404.61" font-size="8.2" fill="#2a2a2a" text-anchor="end" style="stroke:#2a2a2a;stroke-width:0.15" >40</text>
<line x1="267.60" y1="414.08" x2="270.20" y2="414.08" stroke="#111" stroke-width="1.2" />
<text x="265.30" y="417.03" font-size="8.2" fill="#2a2a2a" text-anchor="end" style="stroke:#2a2a2a;stroke-width:0.15" >20</text>
<line x1="267.60" y1="426.50" x2="270.20" y2="426.50" stroke="#111" stroke-width="1.2" />
<text x="265.30" y="429.45" font-size="8.2" fill="#2a2a2a" text-anchor="end" style="stroke:#2a2a2a;stroke-width:0.15" >0</text>
<line x1="269.60" y1="426.50" x2="345.60" y2="426.50" stroke="#111" stroke-width="1.2" />
<line x1="280.40" y1="426.50" x2="280.40" y2="428.70" stroke="#111" stroke-width="1.2" />
<line x1="298.60" y1="426.50" x2="298.60" y2="428.70" stroke="#111" stroke-width="1.2" />
<line x1="317.00" y1="426.50" x2="317.00" y2="428.70" stroke="#111" stroke-width="1.2" />
<line x1="335.30" y1="426.50" x2="335.30" y2="428.70" stroke="#111" stroke-width="1.2" />
<line x1="325.80" y1="372.00" x2="343.30" y2="372.00" stroke="#222" stroke-width="1.2" />
<text x="335.50" y="370.80" font-size="7" fill="#111" text-anchor="middle" font-weight="bold" >*</text>
<text x="280.40" y="440.20" font-size="8.8" fill="#2a2a2a" text-anchor="middle" textLength="10.5" lengthAdjust="spacingAndGlyphs" style="stroke:#2a2a2a;stroke-width:0.15" >1.5</text>
<text x="298.60" y="440.20" font-size="8.8" fill="#2a2a2a" text-anchor="middle" textLength="4.8" lengthAdjust="spacingAndGlyphs" style="stroke:#2a2a2a;stroke-width:0.15" >3</text>
<text x="317.00" y="440.20" font-size="8.8" fill="#2a2a2a" text-anchor="middle" textLength="11" lengthAdjust="spacingAndGlyphs" style="stroke:#2a2a2a;stroke-width:0.15" >4.5</text>
<text x="335.30" y="440.20" font-size="8.8" fill="#2a2a2a" text-anchor="middle" textLength="4.8" lengthAdjust="spacingAndGlyphs" style="stroke:#2a2a2a;stroke-width:0.15" >6</text>
<text x="307.60" y="452.80" font-size="9.8" fill="#2a2a2a" text-anchor="middle" textLength="68.5" lengthAdjust="spacingAndGlyphs" style="stroke:#2a2a2a;stroke-width:0.15" >Days after treatment</text>
<text x="235.60" y="386.50" font-size="9" fill="#2a2a2a" text-anchor="middle" textLength="42" lengthAdjust="spacingAndGlyphs" transform="rotate(-90 235.60 386.50)" style="stroke:#2a2a2a;stroke-width:0.15" >miR-17-92s</text>
<text x="244.60" y="388.00" font-size="9" fill="#2a2a2a" text-anchor="middle" textLength="46" lengthAdjust="spacingAndGlyphs" transform="rotate(-90 244.60 388.00)" style="stroke:#2a2a2a;stroke-width:0.15" >(% of scr-NC)</text>
<rect x="352.20" y="364.30" width="8.60" height="4.40" fill="#2a4582" />
<text x="363.90" y="368.80" font-size="7.8" fill="#2a2a2a" textLength="22" lengthAdjust="spacingAndGlyphs" style="stroke:#2a2a2a;stroke-width:0.15" >miR-17</text>
<rect x="352.20" y="375.55" width="8.60" height="4.40" fill="#ad112d" />
<text x="363.90" y="380.05" font-size="7.8" fill="#2a2a2a" textLength="26.8" lengthAdjust="spacingAndGlyphs" style="stroke:#2a2a2a;stroke-width:0.15" >miR-18a</text>
<rect x="352.20" y="386.80" width="8.60" height="4.40" fill="#6fae40" />
<text x="363.90" y="391.30" font-size="7.8" fill="#2a2a2a" textLength="26.8" lengthAdjust="spacingAndGlyphs" style="stroke:#2a2a2a;stroke-width:0.15" >miR-19a</text>
<rect x="352.20" y="398.05" width="8.60" height="4.40" fill="#512566" />
<text x="363.90" y="402.55" font-size="7.8" fill="#2a2a2a" textLength="26.8" lengthAdjust="spacingAndGlyphs" style="stroke:#2a2a2a;stroke-width:0.15" >miR-20a</text>
<rect x="352.20" y="409.30" width="8.60" height="4.40" fill="#e8951e" />
<text x="363.90" y="413.80" font-size="7.8" fill="#2a2a2a" textLength="26.8" lengthAdjust="spacingAndGlyphs" style="stroke:#2a2a2a;stroke-width:0.15" >miR-19b</text>
<rect x="352.20" y="420.55" width="8.60" height="4.40" fill="#2e6550" />
<text x="363.90" y="425.05" font-size="7.8" fill="#2a2a2a" textLength="26.8" lengthAdjust="spacingAndGlyphs" style="stroke:#2a2a2a;stroke-width:0.15" >miR-92a</text>
<text x="4.60" y="15.90" font-size="11.3" fill="#111" font-weight="bold" textLength="8.4" lengthAdjust="spacingAndGlyphs" style="stroke:#111;stroke-width:0.3" >A</text>
<path d="M10.55,89.76 V94.04 M12.10,88.24 V95.56 M13.65,87.28 V96.52 M15.20,87.01 V96.79 M16.75,87.47 V96.33 M18.30,88.59 V95.21 M19.85,90.21 V93.59 M22.95,89.87 V93.93 M24.50,88.33 V95.47 M26.05,87.32 V96.48 M27.60,87.00 V96.80 M29.15,87.42 V96.38 M30.70,88.50 V95.30 M32.25,90.10 V93.70 M35.35,89.98 V93.82 M36.90,88.41 V95.39 M38.45,87.37 V96.43 M40.00,87.00 V96.80 M41.55,87.37 V96.43 M43.10,88.41 V95.39 M44.65,89.98 V93.82 M47.75,90.10 V93.70 M49.30,88.50 V95.30 M50.85,87.42 V96.38 M52.40,87.00 V96.80 M53.95,87.32 V96.48 M55.50,88.33 V95.47 M57.05,89.87 V93.93 M60.15,90.21 V93.59 M61.70,88.59 V95.21 M63.25,87.47 V96.33 M64.80,87.01 V96.79 M66.35,87.28 V96.52 M67.90,88.24 V95.56 M69.45,89.76 V94.04 M72.55,90.33 V93.47 M74.10,88.68 V95.12 M75.65,87.52 V96.28 M77.20,87.01 V96.79 M78.75,87.24 V96.56 M80.30,88.16 V95.64 M81.85,89.65 V94.15 M84.95,90.44 V93.36 M86.50,88.78 V95.02 M88.05,87.58 V96.22 M89.60,87.02 V96.78 M91.15,87.20 V96.60" stroke="#666" stroke-width="0.85" fill="none"/>
<path d="M9.00,92.21 L9.50,92.82 L10.00,93.41 L10.50,93.99 L11.00,94.53 L11.50,95.02 L12.00,95.47 L12.50,95.86 L13.00,96.19 L13.50,96.46 L14.00,96.65 L14.50,96.76 L15.00,96.80 L15.50,96.76 L16.00,96.65 L16.50,96.46 L17.00,96.19 L17.50,95.86 L18.00,95.47 L18.50,95.02 L19.00,94.53 L19.50,93.99 L20.00,93.41 L20.50,92.82 L21.00,92.21 L21.50,91.59 L22.00,90.98 L22.50,90.39 L23.00,89.81 L23.50,89.27 L24.00,88.78 L24.50,88.33 L25.00,87.94 L25.50,87.61 L26.00,87.34 L26.50,87.15 L27.00,87.04 L27.50,87.00 L28.00,87.04 L28.50,87.15 L29.00,87.34 L29.50,87.61 L30.00,87.94 L30.50,88.33 L31.00,88.78 L31.50,89.27 L32.00,89.81 L32.50,90.39 L33.00,90.98 L33.50,91.59 L34.00,92.21 L34.50,92.82 L35.00,93.41 L35.50,93.99 L36.00,94.53 L36.50,95.02 L37.00,95.47 L37.50,95.86 L38.00,96.19 L38.50,96.46 L39.00,96.65 L39.50,96.76 L40.00,96.80 L40.50,96.76 L41.00,96.65 L41.50,96.46 L42.00,96.19 L42.50,95.86 L43.00,95.47 L43.50,95.02 L44.00,94.53 L44.50,93.99 L45.00,93.41 L45.50,92.82 L46.00,92.21 L46.50,91.59 L47.00,90.98 L47.50,90.39 L48.00,89.81 L48.50,89.27 L49.00,88.78 L49.50,88.33 L50.00,87.94 L50.50,87.61 L51.00,87.34 L51.50,87.15 L52.00,87.04 L52.50,87.00 L53.00,87.04 L53.50,87.15 L54.00,87.34 L54.50,87.61 L55.00,87.94 L55.50,88.33 L56.00,88.78 L56.50,89.27 L57.00,89.81 L57.50,90.39 L58.00,90.98 L58.50,91.59 L59.00,92.21 L59.50,92.82 L60.00,93.41 L60.50,93.99 L61.00,94.53 L61.50,95.02 L62.00,95.47 L62.50,95.86 L63.00,96.19 L63.50,96.46 L64.00,96.65 L64.50,96.76 L65.00,96.80 L65.50,96.76 L66.00,96.65 L66.50,96.46 L67.00,96.19 L67.50,95.86 L68.00,95.47 L68.50,95.02 L69.00,94.53 L69.50,93.99 L70.00,93.41 L70.50,92.82 L71.00,92.21 L71.50,91.59 L72.00,90.98 L72.50,90.39 L73.00,89.81 L73.50,89.27 L74.00,88.78 L74.50,88.33 L75.00,87.94 L75.50,87.61 L76.00,87.34 L76.50,87.15 L77.00,87.04 L77.50,87.00 L78.00,87.04 L78.50,87.15 L79.00,87.34 L79.50,87.61 L80.00,87.94 L80.50,88.33 L81.00,88.78 L81.50,89.27 L82.00,89.81 L82.50,90.39 L83.00,90.98 L83.50,91.59 L84.00,92.21 L84.50,92.82 L85.00,93.41 L85.50,93.99 L86.00,94.53 L86.50,95.02 L87.00,95.47 L87.50,95.86 L88.00,96.19 L88.50,96.46 L89.00,96.65 L89.50,96.76 L90.00,96.80 L90.50,96.76 L91.00,96.65 L91.50,96.46 L92.00,96.19 L92.50,95.86 L93.00,95.47" stroke="#777" stroke-width="1.1" fill="none"/>
<path d="M14.00,87.15 L14.50,87.04 L15.00,87.00 L15.50,87.04 L16.00,87.15 L16.50,87.34 L17.00,87.61 L17.50,87.94 L18.00,88.33 L18.50,88.78 L19.00,89.27 L19.50,89.81 L20.00,90.39 L20.50,90.98 L21.00,91.59 L21.50,92.21 L22.00,92.82 L22.50,93.41 L23.00,93.99 L23.50,94.53 L24.00,95.02 L24.50,95.47 L25.00,95.86 L25.50,96.19 L26.00,96.46 L26.50,96.65 L27.00,96.76 L27.50,96.80 L28.00,96.76 L28.50,96.65 L29.00,96.46 L29.50,96.19 L30.00,95.86 L30.50,95.47 L31.00,95.02 L31.50,94.53 L32.00,93.99 L32.50,93.41 L33.00,92.82 L33.50,92.21 L34.00,91.59 L34.50,90.98 L35.00,90.39 L35.50,89.81 L36.00,89.27 L36.50,88.78 L37.00,88.33 L37.50,87.94 L38.00,87.61 L38.50,87.34 L39.00,87.15 L39.50,87.04 L40.00,87.00 L40.50,87.04 L41.00,87.15 L41.50,87.34 L42.00,87.61 L42.50,87.94 L43.00,88.33 L43.50,88.78 L44.00,89.27 L44.50,89.81 L45.00,90.39 L45.50,90.98 L46.00,91.59 L46.50,92.21 L47.00,92.82 L47.50,93.41 L48.00,93.99 L48.50,94.53 L49.00,95.02 L49.50,95.47 L50.00,95.86 L50.50,96.19 L51.00,96.46 L51.50,96.65 L52.00,96.76 L52.50,96.80 L53.00,96.76 L53.50,96.65 L54.00,96.46 L54.50,96.19 L55.00,95.86 L55.50,95.47 L56.00,95.02 L56.50,94.53 L57.00,93.99 L57.50,93.41 L58.00,92.82 L58.50,92.21 L59.00,91.59 L59.50,90.98 L60.00,90.39 L60.50,89.81 L61.00,89.27 L61.50,88.78 L62.00,88.33 L62.50,87.94 L63.00,87.61 L63.50,87.34 L64.00,87.15 L64.50,87.04 L65.00,87.00 L65.50,87.04 L66.00,87.15 L66.50,87.34 L67.00,87.61 L67.50,87.94 L68.00,88.33 L68.50,88.78 L69.00,89.27 L69.50,89.81 L70.00,90.39 L70.50,90.98 L71.00,91.59 L71.50,92.21 L72.00,92.82 L72.50,93.41 L73.00,93.99 L73.50,94.53 L74.00,95.02 L74.50,95.47 L75.00,95.86 L75.50,96.19 L76.00,96.46 L76.50,96.65 L77.00,96.76 L77.50,96.80 L78.00,96.76 L78.50,96.65 L79.00,96.46 L79.50,96.19 L80.00,95.86 L80.50,95.47 L81.00,95.02 L81.50,94.53 L82.00,93.99 L82.50,93.41 L83.00,92.82 L83.50,92.21 L84.00,91.59 L84.50,90.98 L85.00,90.39 L85.50,89.81 L86.00,89.27 L86.50,88.78 L87.00,88.33 L87.50,87.94 L88.00,87.61 L88.50,87.34 L89.00,87.15 L89.50,87.04 L90.00,87.00 L90.50,87.04 L91.00,87.15 L91.50,87.34 L92.00,87.61 L92.50,87.94 L93.00,88.33" stroke="#161616" stroke-width="1.6" fill="none"/>
<text x="4.60" y="87.60" font-size="8.2" fill="#333" style="stroke:#333;stroke-width:0.12" >5'</text>
<text x="4.60" y="104.20" font-size="8.2" fill="#333" style="stroke:#333;stroke-width:0.12" >3'</text>
<text x="25.50" y="80.00" font-size="8.0" fill="#a8183c" font-weight="bold" textLength="36.9" lengthAdjust="spacingAndGlyphs" >MIR17HG</text>
<text x="91.00" y="79.30" font-size="8" fill="#555" textLength="17.7" lengthAdjust="spacingAndGlyphs" style="stroke:#555;stroke-width:0.12" >Pol II</text>
<g transform="translate(121.5,74.5) rotate(-35.5)">
<path d="M0.10,-0.99 L1.90,0.99 M1.55,-2.32 L3.35,2.32 M3.00,-3.39 L4.80,3.39 M4.45,-4.07 L6.25,4.07 M5.90,-4.30 L7.70,4.30 M7.35,-4.04 L9.15,4.04 M8.80,-3.33 L10.60,3.33 M10.25,-2.24 L12.05,2.24 M11.70,-0.89 L13.50,0.89 M14.60,-1.93 L16.40,1.93 M16.05,-3.09 L17.85,3.09 M17.50,-3.91 L19.30,3.91 M18.95,-4.28 L20.75,4.28 M20.40,-4.17 L22.20,4.17 M21.85,-3.59 L23.65,3.59 M23.30,-2.61 L25.10,2.61 M24.75,-1.33 L26.55,1.33 M27.65,-1.52 L29.45,1.52 M29.10,-2.76 L30.90,2.76 M30.55,-3.70 L32.35,3.70 M32.00,-4.22 L33.80,4.22 M33.45,-4.26 L35.25,4.26 M34.90,-3.82 L36.70,3.82 M36.35,-2.95 L38.15,2.95 M37.80,-1.75 L39.60,1.75" stroke="#505050" stroke-width="0.65" fill="none"/>
<path d="M0.00,-0.00 L0.50,-0.50 L1.00,-0.99 L1.50,-1.47 L2.00,-1.93 L2.50,-2.36 L3.00,-2.76 L3.50,-3.13 L4.00,-3.45 L4.50,-3.72 L5.00,-3.95 L5.50,-4.12 L6.00,-4.23 L6.50,-4.29 L7.00,-4.29 L7.50,-4.23 L8.00,-4.12 L8.50,-3.95 L9.00,-3.72 L9.50,-3.45 L10.00,-3.13 L10.50,-2.76 L11.00,-2.36 L11.50,-1.93 L12.00,-1.47 L12.50,-0.99 L13.00,-0.50 L13.50,0.00 L14.00,0.50 L14.50,0.99 L15.00,1.47 L15.50,1.93 L16.00,2.36 L16.50,2.76 L17.00,3.13 L17.50,3.45 L18.00,3.72 L18.50,3.95 L19.00,4.12 L19.50,4.23 L20.00,4.29 L20.50,4.29 L21.00,4.23 L21.50,4.12 L22.00,3.95 L22.50,3.72 L23.00,3.45 L23.50,3.13 L24.00,2.76 L24.50,2.36 L25.00,1.93 L25.50,1.47 L26.00,0.99 L26.50,0.50 L27.00,0.00 L27.50,-0.50 L28.00,-0.99 L28.50,-1.47 L29.00,-1.93 L29.50,-2.36 L30.00,-2.76 L30.50,-3.13 L31.00,-3.45 L31.50,-3.72 L32.00,-3.95 L32.50,-4.12 L33.00,-4.23 L33.50,-4.29 L34.00,-4.29 L34.50,-4.23 L35.00,-4.12 L35.50,-3.95 L36.00,-3.72 L36.50,-3.45 L37.00,-3.13 L37.50,-2.76 L38.00,-2.36 L38.50,-1.93 L39.00,-1.47 L39.50,-0.99 L40.00,-0.50 L40.50,-0.00 L41.00,0.50 L41.50,0.99" stroke="#666" stroke-width="0.9" fill="none"/>
<path d="M-1.00,-0.99 L-0.50,-0.50 L0.00,0.00 L0.50,0.50 L1.00,0.99 L1.50,1.47 L2.00,1.93 L2.50,2.36 L3.00,2.76 L3.50,3.13 L4.00,3.45 L4.50,3.72 L5.00,3.95 L5.50,4.12 L6.00,4.23 L6.50,4.29 L7.00,4.29 L7.50,4.23 L8.00,4.12 L8.50,3.95 L9.00,3.72 L9.50,3.45 L10.00,3.13 L10.50,2.76 L11.00,2.36 L11.50,1.93 L12.00,1.47 L12.50,0.99 L13.00,0.50 L13.50,0.00 L14.00,-0.50 L14.50,-0.99 L15.00,-1.47 L15.50,-1.93 L16.00,-2.36 L16.50,-2.76 L17.00,-3.13 L17.50,-3.45 L18.00,-3.72 L18.50,-3.95 L19.00,-4.12 L19.50,-4.23 L20.00,-4.29 L20.50,-4.29 L21.00,-4.23 L21.50,-4.12 L22.00,-3.95 L22.50,-3.72 L23.00,-3.45 L23.50,-3.13 L24.00,-2.76 L24.50,-2.36 L25.00,-1.93 L25.50,-1.47 L26.00,-0.99 L26.50,-0.50 L27.00,-0.00 L27.50,0.50 L28.00,0.99 L28.50,1.47 L29.00,1.93 L29.50,2.36 L30.00,2.76 L30.50,3.13 L31.00,3.45 L31.50,3.72 L32.00,3.95 L32.50,4.12 L33.00,4.23 L33.50,4.29 L34.00,4.29 L34.50,4.23 L35.00,4.12 L35.50,3.95 L36.00,3.72 L36.50,3.45 L37.00,3.13 L37.50,2.76 L38.00,2.36 L38.50,1.93 L39.00,1.47 L39.50,0.99 L40.00,0.50 L40.50,0.00 L41.00,-0.50 L41.50,-0.99 L42.00,-1.47" stroke="#161616" stroke-width="1.6" fill="none"/>
</g>
<text x="146.20" y="48.60" font-size="8.4" fill="#333" style="stroke:#333;stroke-width:0.12" >3'</text>
<text x="157.80" y="48.60" font-size="8.4" fill="#333" style="stroke:#333;stroke-width:0.12" >5'</text>
<path d="M124.5,74.5 C120,73 117.5,76 117.5,80 C117.3,84 116.5,87 114.5,90" stroke="#161616" stroke-width="1.6" fill="none"/>
<path d="M128.5,78 C128.8,84 126,90 121.5,96 L117,101.5" stroke="#6a6a6a" stroke-width="1" fill="none"/>
<line x1="119.00" y1="80.30" x2="122.30" y2="79.20" stroke="#111" stroke-width="1.4" />
<line x1="119.00" y1="83.30" x2="122.60" y2="82.00" stroke="#111" stroke-width="1.4" />
<line x1="118.60" y1="86.40" x2="122.20" y2="85.00" stroke="#111" stroke-width="1.4" />
<line x1="120.30" y1="91.20" x2="123.20" y2="89.80" stroke="#666" stroke-width="1.1" />
<line x1="121.50" y1="93.30" x2="124.40" y2="91.90" stroke="#666" stroke-width="1.1" />
<line x1="119.40" y1="94.20" x2="122.00" y2="92.80" stroke="#666" stroke-width="1.1" />
<line x1="110.50" y1="88.20" x2="114.00" y2="88.00" stroke="#777" stroke-width="1.2" />
<line x1="110.50" y1="90.30" x2="114.00" y2="90.10" stroke="#777" stroke-width="1.2" />
<line x1="110.50" y1="103.20" x2="113.80" y2="103.00" stroke="#888" stroke-width="1.1" />
<line x1="110.50" y1="105.00" x2="113.80" y2="104.80" stroke="#888" stroke-width="1.1" />
<defs><radialGradient id="polg" cx="0.4" cy="0.35" r="0.7"><stop offset="0" stop-color="#6aa4e0"/><stop offset="0.6" stop-color="#3a7ac8"/><stop offset="1" stop-color="#2a5ea8"/></radialGradient></defs>
<path d="M92,90 C92,84 97,82.3 102,82.5 C107.5,82.7 110.5,86 110.3,91 C110.1,96.5 106,100.2 100.5,100 C97.5,99.9 95,98.5 93.5,96.5 L91.2,97.8 Z" fill="url(#polg)"/>
<ellipse cx="154" cy="107.5" rx="26.6" ry="21.6" fill="#f4d0ae" stroke="#c99352" stroke-width="1.2"/>
<text x="137.50" y="83.70" font-size="8" fill="#e8a848" font-weight="bold" textLength="32.4" lengthAdjust="spacingAndGlyphs" >RNase H</text>
<text x="134.80" y="97.20" font-size="4.6" fill="#553322" textLength="11" lengthAdjust="spacingAndGlyphs" style="stroke:#553322;stroke-width:0.12" >LNA™</text>
<text x="160.30" y="97.20" font-size="4.6" fill="#553322" textLength="12" lengthAdjust="spacingAndGlyphs" style="stroke:#553322;stroke-width:0.12" >LNA™</text>
<text x="147.50" y="97.20" font-size="4.6" fill="#fff3e8" textLength="11" lengthAdjust="spacingAndGlyphs" style="stroke:#fff3e8;stroke-width:0.12" >DNA™</text>
<rect x="145.00" y="101.80" width="18.00" height="2.60" fill="#fffaf5" />
<line x1="135.50" y1="101.50" x2="171.80" y2="101.50" stroke="#111" stroke-width="1.7" />
<line x1="137.20" y1="101.50" x2="137.20" y2="105.00" stroke="#111" stroke-width="1.0" />
<line x1="139.40" y1="101.50" x2="139.40" y2="105.00" stroke="#111" stroke-width="1.0" />
<line x1="141.60" y1="101.50" x2="141.60" y2="105.00" stroke="#111" stroke-width="1.0" />
<line x1="143.80" y1="101.50" x2="143.80" y2="105.00" stroke="#111" stroke-width="1.0" />
<line x1="164.20" y1="101.50" x2="164.20" y2="105.00" stroke="#111" stroke-width="1.0" />
<line x1="166.40" y1="101.50" x2="166.40" y2="105.00" stroke="#111" stroke-width="1.0" />
<line x1="168.60" y1="101.50" x2="168.60" y2="105.00" stroke="#111" stroke-width="1.0" />
<line x1="170.60" y1="101.50" x2="170.60" y2="105.00" stroke="#111" stroke-width="1.0" />
<text x="102.50" y="106.30" font-size="8" fill="#555" style="stroke:#555;stroke-width:0.12" >5'</text>
<path d="M114.5,103 C120,101.8 126,102 131.4,102.5 C134,103 135,106 136,109 C137,112.5 138,114.5 140,114.2 C143,113.8 145.5,110 148.3,108.2 C150,107.2 151.5,106.8 153,107 C155.5,107.5 157,110.5 159.5,110.9 C162.5,111.2 165,110.3 168,110.1 C172,109.8 175,108.6 177.5,109 C180.5,109.5 182,112 184.5,112.4 C189,113 195,110.5 200,111 C203,111.3 205,112.5 207,113.2" stroke="#1a1a1a" stroke-width="1.6" fill="none"/>
<text x="210.30" y="117.00" font-size="8" fill="#333" style="stroke:#333;stroke-width:0.12" >3'</text>
<text x="174.00" y="133.40" font-size="8" fill="#a8183c" font-weight="bold" textLength="48.5" lengthAdjust="spacingAndGlyphs" >MIR17HG-PT</text>
<g fill="none" stroke="#000" stroke-width="1.9" stroke-linecap="round"><ellipse cx="116.6" cy="130.8" rx="4.6" ry="2.9" transform="rotate(-12 116.6 130.8)"/><ellipse cx="124.6" cy="139.2" rx="2.7" ry="4.7" transform="rotate(14 124.6 139.2)"/><path d="M120.5,130.2 C123,129.6 125,129 127,128.6"/><path d="M123.8,134.6 C124.5,132.5 125.3,130.5 126.2,128.8"/></g>
<path d="M131.6,111.6 C131.6,116 130,122 127.8,129 L123.8,129.6 C125.8,123 128.5,117 131.6,111.6 Z" fill="#000"/>
<path d="M143.4,124.4 C139,127 133.5,129 127.4,131.4 L126.2,127.8 C132,126 137.8,124.8 143.4,124.4 Z" fill="#000"/>
<path d="M177.5,89.6 C181,95 186,97 191,96.6 C200,96 207.5,89 209.3,82 C210.2,78.5 209.5,75.5 208.2,73.5" stroke="#111" stroke-width="2" fill="none"/>
<path d="M204,69.4 L211.8,72.2 L205.5,75.5 Z" fill="#111"/>
<line x1="197.20" y1="39.40" x2="202.00" y2="32.20" stroke="#6a6a6a" stroke-width="1.2" stroke-linecap="round"/>
<line x1="212.60" y1="35.10" x2="215.20" y2="28.80" stroke="#6a6a6a" stroke-width="1.2" stroke-linecap="round"/>
<line x1="222.50" y1="39.40" x2="224.60" y2="32.20" stroke="#6a6a6a" stroke-width="1.2" stroke-linecap="round"/>
<line x1="203.00" y1="45.20" x2="205.40" y2="38.00" stroke="#6a6a6a" stroke-width="1.2" stroke-linecap="round"/>
<line x1="210.20" y1="46.20" x2="214.50" y2="43.50" stroke="#6a6a6a" stroke-width="1.2" stroke-linecap="round"/>
<line x1="197.70" y1="52.40" x2="202.30" y2="50.20" stroke="#6a6a6a" stroke-width="1.2" stroke-linecap="round"/>
<line x1="219.30" y1="52.40" x2="223.70" y2="47.60" stroke="#6a6a6a" stroke-width="1.2" stroke-linecap="round"/>
<line x1="231.30" y1="54.30" x2="233.80" y2="44.20" stroke="#6a6a6a" stroke-width="1.2" stroke-linecap="round"/>
<line x1="203.90" y1="58.80" x2="210.70" y2="56.30" stroke="#6a6a6a" stroke-width="1.2" stroke-linecap="round"/>
<line x1="213.60" y1="64.60" x2="220.60" y2="57.50" stroke="#6a6a6a" stroke-width="1.2" stroke-linecap="round"/>
<text x="216.00" y="13.10" font-size="8.2" fill="#111" text-anchor="middle" font-weight="bold" textLength="48" lengthAdjust="spacingAndGlyphs" >MIR17HG-PT</text>
<text x="216.00" y="22.50" font-size="8.2" fill="#111" text-anchor="middle" font-weight="bold" textLength="46.3" lengthAdjust="spacingAndGlyphs" >degradation</text>
<line x1="226.00" y1="113.80" x2="261.50" y2="113.80" stroke="#111" stroke-width="1.4" />
<path d="M266.5,113.8 L259.5,110.6 L259.5,117.0 Z" fill="#111"/>
<circle cx="244.2" cy="113.8" r="8.7" fill="none" stroke="#8e1a40" stroke-width="1.6"/>
<line x1="238.20" y1="107.80" x2="250.20" y2="119.80" stroke="#8e1a40" stroke-width="1.6" />
<line x1="401.20" y1="113.70" x2="430.40" y2="113.70" stroke="#111" stroke-width="1.4" />
<path d="M435.4,113.7 L428.4,110.5 L428.4,116.9 Z" fill="#111"/>
<circle cx="415.0" cy="113.7" r="8.7" fill="none" stroke="#8e1a40" stroke-width="1.6"/>
<line x1="409.00" y1="107.70" x2="421.00" y2="119.70" stroke="#8e1a40" stroke-width="1.6" />
<text x="333.90" y="78.90" font-size="8.2" fill="#951a42" text-anchor="middle" font-weight="bold" textLength="48.5" lengthAdjust="spacingAndGlyphs" >pri-mir-17-92</text>
<path d="M289.60,96.5 L289.60,112" stroke="#eea0b0" stroke-width="2.4" fill="none"/>
<path d="M307.10,96.5 L307.10,112" stroke="#eea0b0" stroke-width="2.4" fill="none"/>
<path d="M324.60,96.5 L324.60,112" stroke="#eea0b0" stroke-width="2.4" fill="none"/>
<path d="M342.10,96.5 L342.10,112" stroke="#eea0b0" stroke-width="2.4" fill="none"/>
<path d="M359.60,96.5 L359.60,112" stroke="#eea0b0" stroke-width="2.4" fill="none"/>
<path d="M377.10,96.5 L377.10,112" stroke="#eea0b0" stroke-width="2.4" fill="none"/>
<path d="M283.5,117.5 L289.60,117.5 L289.60,92.6 A6.2,4.2 0 1 1 293.40,92.6 L293.40,117.5 L307.10,117.5 L307.10,92.6 A6.2,4.2 0 1 1 310.90,92.6 L310.90,117.5 L324.60,117.5 L324.60,92.6 A6.2,4.2 0 1 1 328.40,92.6 L328.40,117.5 L342.10,117.5 L342.10,92.6 A6.2,4.2 0 1 1 345.90,92.6 L345.90,117.5 L359.60,117.5 L359.60,92.6 A6.2,4.2 0 1 1 363.40,92.6 L363.40,117.5 L377.10,117.5 L377.10,92.6 A6.2,4.2 0 1 1 380.90,92.6 L380.90,117.5 L384.6,117.5" stroke="#a4a4a4" stroke-width="1.1" fill="none"/>
<path d="M289.10,99 l1.1,1.8 l-1.1,1.8 l1.1,1.8 l-1.1,1.8 l1.1,1.8" stroke="#d84a6a" stroke-width="0.9" fill="none"/>
<path d="M306.60,99 l1.1,1.8 l-1.1,1.8 l1.1,1.8 l-1.1,1.8 l1.1,1.8" stroke="#d84a6a" stroke-width="0.9" fill="none"/>
<path d="M324.10,99 l1.1,1.8 l-1.1,1.8 l1.1,1.8 l-1.1,1.8 l1.1,1.8" stroke="#d84a6a" stroke-width="0.9" fill="none"/>
<path d="M341.60,99 l1.1,1.8 l-1.1,1.8 l1.1,1.8 l-1.1,1.8 l1.1,1.8" stroke="#d84a6a" stroke-width="0.9" fill="none"/>
<path d="M359.10,99 l1.1,1.8 l-1.1,1.8 l1.1,1.8 l-1.1,1.8 l1.1,1.8" stroke="#d84a6a" stroke-width="0.9" fill="none"/>
<path d="M376.60,99 l1.1,1.8 l-1.1,1.8 l1.1,1.8 l-1.1,1.8 l1.1,1.8" stroke="#d84a6a" stroke-width="0.9" fill="none"/>
<path d="M289.5,112.6 C286.5,112.8 285.6,115 286.4,117 C287.2,117.8 288.5,117.8 289.6,117.4 Z" fill="#c0102c"/>
<path d="M293.6,112.6 C296.6,112.8 297.6,115 296.8,117 C296,117.8 294.7,117.8 293.6,117.4 Z" fill="#c0102c"/>
<text x="275.20" y="120.30" font-size="8.4" fill="#7a1a3a" style="stroke:#7a1a3a;stroke-width:0.12" >5'</text>
<text x="387.90" y="120.30" font-size="8" fill="#333" style="stroke:#333;stroke-width:0.12" >3'</text>
<text x="268.75" y="130.20" font-size="8" fill="#333" textLength="23.75" lengthAdjust="spacingAndGlyphs" style="stroke:#333;stroke-width:0.12" >miR -17</text>
<text x="301.25" y="130.20" font-size="8" fill="#333" textLength="15" lengthAdjust="spacingAndGlyphs" style="stroke:#333;stroke-width:0.12" >-18a</text>
<text x="318.25" y="130.20" font-size="8" fill="#333" textLength="14.75" lengthAdjust="spacingAndGlyphs" style="stroke:#333;stroke-width:0.12" >-19a</text>
<text x="335.00" y="130.20" font-size="8" fill="#333" textLength="15" lengthAdjust="spacingAndGlyphs" style="stroke:#333;stroke-width:0.12" >-20a</text>
<text x="351.25" y="130.20" font-size="8" fill="#333" textLength="40" lengthAdjust="spacingAndGlyphs" style="stroke:#333;stroke-width:0.12" >-19b1-92a1</text>
<text x="418.10" y="91.10" font-size="8" fill="#444" text-anchor="middle" textLength="40.4" lengthAdjust="spacingAndGlyphs" style="stroke:#444;stroke-width:0.12" >miR-17-92s</text>
<text x="418.30" y="101.00" font-size="8" fill="#444" text-anchor="middle" textLength="38" lengthAdjust="spacingAndGlyphs" style="stroke:#444;stroke-width:0.12" >Biogenesis</text>
<text x="434.00" y="73.50" font-size="7.8" fill="#a8183c" font-weight="bold" textLength="54" lengthAdjust="spacingAndGlyphs" transform="rotate(-12.6 434.00 73.50)" >Mature miRNA</text>
<line x1="458.20" y1="74.40" x2="468.10" y2="112.00" stroke="#9a9a9a" stroke-width="2.0" />
<line x1="460.30" y1="84.50" x2="465.30" y2="103.60" stroke="#e8707c" stroke-width="2.6" />
<path d="M461.2,88 l1.6,1.2 l-1.2,1.6 l1.8,1.4 l-1.2,1.8 l1.8,1.4 l-1.2,1.8 l1.6,1.4" stroke="#d83a50" stroke-width="0.9" fill="none"/>
<line x1="483.40" y1="113.90" x2="499.60" y2="80.50" stroke="#b8b8b8" stroke-width="2.2" />
<text x="448.10" y="80.20" font-size="8" fill="#333" style="stroke:#333;stroke-width:0.12" >3'</text>
<text x="461.50" y="119.60" font-size="8" fill="#333" style="stroke:#333;stroke-width:0.12" >5'</text>
<text x="502.50" y="85.70" font-size="8" fill="#333" style="stroke:#333;stroke-width:0.12" >5'</text>
<text x="487.20" y="119.30" font-size="8" fill="#333" style="stroke:#333;stroke-width:0.12" >3'</text>
<text x="474.00" y="124.00" font-size="7.8" fill="#a8183c" font-weight="bold" textLength="31" lengthAdjust="spacingAndGlyphs" transform="rotate(21 474.00 124.00)" >miRNA*</text>
<text x="142.80" y="327.90" font-size="11.3" fill="#111" font-weight="bold" textLength="8.4" lengthAdjust="spacingAndGlyphs" style="stroke:#111;stroke-width:0.3" >G</text>
<defs><filter id="bl1" x="-20%" y="-20%" width="140%" height="140%"><feGaussianBlur stdDeviation="0.9"/></filter><filter id="bl2" x="-50%" y="-50%" width="200%" height="200%"><feGaussianBlur stdDeviation="0.7"/></filter><clipPath id="cg1"><rect x="154.3" y="333.9" width="55.4" height="55.2"/></clipPath><clipPath id="cg2"><rect x="154.3" y="393.5" width="55" height="55.3"/></clipPath></defs>
<rect x="154.30" y="333.90" width="55.40" height="55.20" fill="#02041a" />
<g clip-path="url(#cg1)"><g filter="url(#bl1)">
<ellipse cx="153.0" cy="334.4" rx="3.1" ry="2.8" fill="rgb(17,17,203)"/>
<ellipse cx="166.6" cy="333.7" rx="3.1" ry="2.8" fill="rgb(13,13,159)"/>
<ellipse cx="173.9" cy="332.9" rx="3.5" ry="3.4" fill="rgb(21,21,244)"/>
<ellipse cx="184.0" cy="332.3" rx="3.7" ry="3.1" fill="rgb(13,13,152)"/>
<ellipse cx="197.4" cy="332.8" rx="3.5" ry="3.2" fill="rgb(15,15,181)"/>
<ellipse cx="201.7" cy="332.3" rx="3.2" ry="2.9" fill="rgb(16,16,185)"/>
<ellipse cx="210.6" cy="333.7" rx="3.2" ry="3.3" fill="rgb(17,17,195)"/>
<ellipse cx="158.1" cy="341.0" rx="3.7" ry="3.3" fill="rgb(19,19,222)"/>
<ellipse cx="163.4" cy="340.6" rx="3.6" ry="3.4" fill="rgb(14,14,165)"/>
<ellipse cx="179.8" cy="341.2" rx="3.7" ry="3.7" fill="rgb(15,15,181)"/>
<ellipse cx="186.1" cy="340.7" rx="3.7" ry="3.5" fill="rgb(18,18,207)"/>
<ellipse cx="191.2" cy="341.6" rx="3.5" ry="3.7" fill="rgb(18,18,211)"/>
<ellipse cx="199.4" cy="341.5" rx="3.0" ry="2.6" fill="rgb(14,14,166)"/>
<ellipse cx="153.0" cy="347.0" rx="3.3" ry="2.7" fill="rgb(20,20,237)"/>
<ellipse cx="161.5" cy="349.3" rx="3.7" ry="3.2" fill="rgb(20,20,236)"/>
<ellipse cx="167.8" cy="349.3" rx="3.8" ry="3.2" fill="rgb(14,14,165)"/>
<ellipse cx="174.3" cy="347.8" rx="3.5" ry="2.8" fill="rgb(15,15,176)"/>
<ellipse cx="181.8" cy="348.1" rx="3.8" ry="3.6" fill="rgb(16,16,186)"/>
<ellipse cx="189.9" cy="346.3" rx="3.7" ry="4.0" fill="rgb(17,17,193)"/>
<ellipse cx="195.9" cy="347.5" rx="3.1" ry="2.5" fill="rgb(15,15,181)"/>
<ellipse cx="209.1" cy="347.3" rx="3.0" ry="2.6" fill="rgb(11,11,127)"/>
<ellipse cx="163.1" cy="356.2" rx="3.5" ry="3.1" fill="rgb(14,14,164)"/>
<ellipse cx="171.3" cy="353.5" rx="3.7" ry="3.5" fill="rgb(21,21,249)"/>
<ellipse cx="177.3" cy="353.5" rx="3.3" ry="3.4" fill="rgb(15,15,176)"/>
<ellipse cx="184.1" cy="356.5" rx="3.4" ry="3.3" fill="rgb(12,12,139)"/>
<ellipse cx="201.5" cy="356.2" rx="3.6" ry="3.2" fill="rgb(13,13,149)"/>
<ellipse cx="207.8" cy="355.0" rx="3.6" ry="3.1" fill="rgb(13,13,155)"/>
<ellipse cx="215.5" cy="356.2" rx="3.6" ry="3.7" fill="rgb(17,17,197)"/>
<ellipse cx="154.4" cy="361.4" rx="3.0" ry="2.7" fill="rgb(13,13,152)"/>
<ellipse cx="162.0" cy="363.5" rx="3.4" ry="3.7" fill="rgb(21,21,243)"/>
<ellipse cx="167.8" cy="360.9" rx="3.2" ry="2.7" fill="rgb(14,14,169)"/>
<ellipse cx="176.7" cy="363.1" rx="3.4" ry="3.5" fill="rgb(18,18,215)"/>
<ellipse cx="190.8" cy="362.9" rx="3.6" ry="3.1" fill="rgb(14,14,168)"/>
<ellipse cx="195.7" cy="363.0" rx="3.8" ry="3.5" fill="rgb(14,14,161)"/>
<ellipse cx="204.1" cy="360.7" rx="3.1" ry="3.3" fill="rgb(12,12,140)"/>
<ellipse cx="209.0" cy="363.1" rx="3.8" ry="3.4" fill="rgb(16,16,183)"/>
<ellipse cx="156.5" cy="367.2" rx="3.8" ry="3.6" fill="rgb(18,18,214)"/>
<ellipse cx="164.6" cy="370.2" rx="3.7" ry="3.2" fill="rgb(15,15,171)"/>
<ellipse cx="170.9" cy="369.2" rx="3.2" ry="2.7" fill="rgb(16,16,191)"/>
<ellipse cx="178.3" cy="368.7" rx="3.5" ry="3.2" fill="rgb(21,21,240)"/>
<ellipse cx="185.8" cy="369.0" rx="3.4" ry="3.2" fill="rgb(11,11,129)"/>
<ellipse cx="191.0" cy="370.0" rx="3.1" ry="3.2" fill="rgb(14,14,167)"/>
<ellipse cx="199.2" cy="369.0" rx="3.4" ry="2.9" fill="rgb(17,17,194)"/>
<ellipse cx="205.9" cy="368.1" rx="3.6" ry="3.5" fill="rgb(15,15,170)"/>
<ellipse cx="215.3" cy="368.7" rx="3.5" ry="3.3" fill="rgb(15,15,170)"/>
<ellipse cx="154.1" cy="376.0" rx="3.4" ry="3.4" fill="rgb(21,21,244)"/>
<ellipse cx="162.9" cy="375.0" rx="3.4" ry="3.6" fill="rgb(21,21,244)"/>
<ellipse cx="166.9" cy="375.7" rx="3.1" ry="2.5" fill="rgb(15,15,174)"/>
<ellipse cx="176.3" cy="377.3" rx="3.1" ry="3.1" fill="rgb(19,19,221)"/>
<ellipse cx="183.7" cy="377.6" rx="3.2" ry="2.9" fill="rgb(18,18,208)"/>
<ellipse cx="191.1" cy="377.1" rx="3.1" ry="3.0" fill="rgb(14,14,164)"/>
<ellipse cx="195.2" cy="375.2" rx="3.6" ry="3.5" fill="rgb(11,11,129)"/>
<ellipse cx="201.6" cy="375.3" rx="3.5" ry="2.9" fill="rgb(15,15,171)"/>
<ellipse cx="211.3" cy="377.6" rx="3.1" ry="2.5" fill="rgb(13,13,150)"/>
<ellipse cx="157.0" cy="381.6" rx="3.3" ry="3.5" fill="rgb(21,21,241)"/>
<ellipse cx="163.5" cy="384.4" rx="3.5" ry="2.9" fill="rgb(19,19,220)"/>
<ellipse cx="178.5" cy="381.4" rx="3.8" ry="3.9" fill="rgb(18,18,213)"/>
<ellipse cx="191.2" cy="384.2" rx="3.4" ry="3.2" fill="rgb(13,13,156)"/>
<ellipse cx="199.0" cy="381.6" rx="3.4" ry="2.8" fill="rgb(13,13,147)"/>
<ellipse cx="205.2" cy="381.8" rx="3.2" ry="3.3" fill="rgb(13,13,153)"/>
<ellipse cx="213.8" cy="381.7" rx="3.3" ry="2.9" fill="rgb(11,11,129)"/>
<ellipse cx="161.5" cy="388.8" rx="3.4" ry="2.8" fill="rgb(21,21,243)"/>
<ellipse cx="168.1" cy="389.9" rx="3.7" ry="3.5" fill="rgb(16,16,189)"/>
<ellipse cx="177.0" cy="389.3" rx="3.7" ry="3.6" fill="rgb(19,19,220)"/>
<ellipse cx="181.8" cy="388.3" rx="3.1" ry="3.2" fill="rgb(11,11,133)"/>
<ellipse cx="188.1" cy="388.4" rx="3.7" ry="3.7" fill="rgb(17,17,201)"/>
<ellipse cx="195.4" cy="389.2" rx="3.4" ry="3.1" fill="rgb(12,12,140)"/>
<ellipse cx="205.0" cy="391.6" rx="3.4" ry="3.7" fill="rgb(13,13,148)"/>
<ellipse cx="209.8" cy="388.1" rx="3.3" ry="3.1" fill="rgb(14,14,167)"/>
</g>
<line x1="180.00" y1="369.50" x2="184.40" y2="367.00" stroke="#76902c" stroke-width="1.5" stroke-linecap="round"/>
<line x1="199.70" y1="349.80" x2="204.10" y2="347.30" stroke="#76902c" stroke-width="1.5" stroke-linecap="round"/>
</g>
<polyline points="190.5,335.3 182.3,360.2 208.6,352.5" fill="none" stroke="#d0d0dc" stroke-width="1.5"/>
<rect x="190.5" y="335.3" width="18.3" height="17.4" fill="none" stroke="#d0d0dc" stroke-width="1.5"/>
<rect x="154.30" y="393.50" width="55.00" height="55.30" fill="#000004" />
<g clip-path="url(#cg2)"><g filter="url(#bl1)">
<ellipse cx="154.2" cy="393.7" rx="2.5" ry="2.5" fill="rgb(10,15,30)"/>
<ellipse cx="160.6" cy="392.6" rx="2.6" ry="2.6" fill="rgb(12,19,38)"/>
<ellipse cx="179.7" cy="394.9" rx="2.6" ry="2.6" fill="rgb(13,19,39)"/>
<ellipse cx="196.2" cy="393.3" rx="2.5" ry="2.5" fill="rgb(22,34,68)"/>
<ellipse cx="202.3" cy="394.0" rx="2.3" ry="2.3" fill="rgb(29,44,89)"/>
<ellipse cx="209.8" cy="394.5" rx="2.3" ry="2.3" fill="rgb(14,21,43)"/>
<ellipse cx="156.7" cy="398.2" rx="2.4" ry="2.4" fill="rgb(13,20,40)"/>
<ellipse cx="163.0" cy="400.9" rx="2.0" ry="2.0" fill="rgb(7,10,21)"/>
<ellipse cx="170.5" cy="399.4" rx="2.4" ry="2.4" fill="rgb(5,8,17)"/>
<ellipse cx="175.7" cy="400.3" rx="2.1" ry="2.1" fill="rgb(8,12,24)"/>
<ellipse cx="194.2" cy="398.5" rx="2.4" ry="2.4" fill="rgb(13,20,41)"/>
<ellipse cx="200.0" cy="398.4" rx="2.1" ry="2.1" fill="rgb(18,27,55)"/>
<ellipse cx="204.4" cy="398.8" rx="2.8" ry="2.8" fill="rgb(16,24,48)"/>
<ellipse cx="212.5" cy="398.6" rx="2.9" ry="2.9" fill="rgb(22,34,68)"/>
<ellipse cx="159.6" cy="406.3" rx="2.3" ry="2.3" fill="rgb(5,8,17)"/>
<ellipse cx="172.6" cy="405.1" rx="3.0" ry="3.0" fill="rgb(9,14,29)"/>
<ellipse cx="183.3" cy="406.7" rx="2.2" ry="2.2" fill="rgb(13,20,41)"/>
<ellipse cx="197.7" cy="406.6" rx="2.4" ry="2.4" fill="rgb(12,18,36)"/>
<ellipse cx="208.9" cy="404.8" rx="2.6" ry="2.6" fill="rgb(15,23,47)"/>
<ellipse cx="162.5" cy="411.7" rx="2.6" ry="2.6" fill="rgb(7,11,23)"/>
<ellipse cx="180.3" cy="411.1" rx="2.1" ry="2.1" fill="rgb(17,25,51)"/>
<ellipse cx="188.5" cy="412.9" rx="2.7" ry="2.7" fill="rgb(21,32,65)"/>
<ellipse cx="200.5" cy="412.1" rx="2.0" ry="2.0" fill="rgb(22,34,68)"/>
<ellipse cx="205.2" cy="412.2" rx="3.0" ry="3.0" fill="rgb(11,17,34)"/>
<ellipse cx="211.4" cy="412.2" rx="2.7" ry="2.7" fill="rgb(24,36,72)"/>
<ellipse cx="155.2" cy="418.7" rx="2.7" ry="2.7" fill="rgb(28,42,84)"/>
<ellipse cx="161.4" cy="417.3" rx="2.9" ry="2.9" fill="rgb(21,32,64)"/>
<ellipse cx="166.7" cy="417.1" rx="2.6" ry="2.6" fill="rgb(11,17,34)"/>
<ellipse cx="172.7" cy="419.0" rx="2.7" ry="2.7" fill="rgb(17,26,53)"/>
<ellipse cx="179.0" cy="417.7" rx="2.8" ry="2.8" fill="rgb(11,17,35)"/>
<ellipse cx="185.1" cy="416.1" rx="2.5" ry="2.5" fill="rgb(14,21,43)"/>
<ellipse cx="190.9" cy="417.5" rx="2.9" ry="2.9" fill="rgb(15,22,45)"/>
<ellipse cx="194.8" cy="416.9" rx="2.2" ry="2.2" fill="rgb(13,20,40)"/>
<ellipse cx="203.5" cy="418.0" rx="2.9" ry="2.9" fill="rgb(16,24,49)"/>
<ellipse cx="208.8" cy="416.6" rx="2.8" ry="2.8" fill="rgb(28,42,84)"/>
<ellipse cx="158.4" cy="423.2" rx="2.3" ry="2.3" fill="rgb(12,19,38)"/>
<ellipse cx="163.3" cy="424.5" rx="2.7" ry="2.7" fill="rgb(29,43,87)"/>
<ellipse cx="168.6" cy="422.5" rx="2.3" ry="2.3" fill="rgb(14,21,42)"/>
<ellipse cx="175.0" cy="423.9" rx="2.3" ry="2.3" fill="rgb(26,40,80)"/>
<ellipse cx="193.9" cy="423.7" rx="2.8" ry="2.8" fill="rgb(10,15,31)"/>
<ellipse cx="209.9" cy="423.9" rx="2.6" ry="2.6" fill="rgb(23,34,69)"/>
<ellipse cx="155.2" cy="430.9" rx="2.2" ry="2.2" fill="rgb(19,29,58)"/>
<ellipse cx="159.3" cy="428.0" rx="2.7" ry="2.7" fill="rgb(13,20,40)"/>
<ellipse cx="165.6" cy="429.0" rx="2.5" ry="2.5" fill="rgb(22,33,66)"/>
<ellipse cx="173.1" cy="429.2" rx="2.9" ry="2.9" fill="rgb(11,17,35)"/>
<ellipse cx="184.2" cy="429.9" rx="2.4" ry="2.4" fill="rgb(21,32,64)"/>
<ellipse cx="191.4" cy="430.4" rx="2.5" ry="2.5" fill="rgb(23,34,69)"/>
<ellipse cx="195.4" cy="430.2" rx="2.6" ry="2.6" fill="rgb(24,36,73)"/>
<ellipse cx="201.4" cy="430.7" rx="3.0" ry="3.0" fill="rgb(20,31,62)"/>
<ellipse cx="209.2" cy="429.0" rx="2.9" ry="2.9" fill="rgb(16,25,50)"/>
<ellipse cx="156.0" cy="435.3" rx="2.8" ry="2.8" fill="rgb(19,29,59)"/>
<ellipse cx="170.2" cy="434.5" rx="2.8" ry="2.8" fill="rgb(12,19,38)"/>
<ellipse cx="174.2" cy="435.5" rx="2.8" ry="2.8" fill="rgb(23,35,71)"/>
<ellipse cx="182.6" cy="435.5" rx="2.1" ry="2.1" fill="rgb(14,21,43)"/>
<ellipse cx="187.4" cy="434.9" rx="2.6" ry="2.6" fill="rgb(20,30,61)"/>
<ellipse cx="194.3" cy="435.7" rx="2.4" ry="2.4" fill="rgb(26,40,80)"/>
<ellipse cx="200.5" cy="434.6" rx="3.0" ry="3.0" fill="rgb(20,30,61)"/>
<ellipse cx="205.5" cy="434.6" rx="2.5" ry="2.5" fill="rgb(22,33,66)"/>
<ellipse cx="209.9" cy="436.9" rx="2.4" ry="2.4" fill="rgb(26,39,78)"/>
<ellipse cx="154.5" cy="441.5" rx="2.1" ry="2.1" fill="rgb(20,31,62)"/>
<ellipse cx="160.0" cy="442.9" rx="2.3" ry="2.3" fill="rgb(19,29,58)"/>
<ellipse cx="165.2" cy="441.3" rx="2.9" ry="2.9" fill="rgb(19,29,58)"/>
<ellipse cx="171.8" cy="440.6" rx="2.9" ry="2.9" fill="rgb(12,18,37)"/>
<ellipse cx="183.5" cy="442.1" rx="2.4" ry="2.4" fill="rgb(22,33,67)"/>
<ellipse cx="202.4" cy="441.3" rx="2.4" ry="2.4" fill="rgb(20,30,61)"/>
<ellipse cx="207.3" cy="440.6" rx="2.6" ry="2.6" fill="rgb(20,30,61)"/>
<ellipse cx="158.4" cy="447.8" rx="2.2" ry="2.2" fill="rgb(24,37,74)"/>
<ellipse cx="164.2" cy="448.7" rx="2.3" ry="2.3" fill="rgb(28,42,85)"/>
<ellipse cx="168.5" cy="449.0" rx="2.1" ry="2.1" fill="rgb(14,22,44)"/>
<ellipse cx="182.3" cy="447.3" rx="2.1" ry="2.1" fill="rgb(18,27,54)"/>
<ellipse cx="193.8" cy="448.7" rx="2.1" ry="2.1" fill="rgb(20,30,60)"/>
<ellipse cx="200.1" cy="447.5" rx="2.2" ry="2.2" fill="rgb(11,17,34)"/>
<ellipse cx="204.1" cy="446.1" rx="2.5" ry="2.5" fill="rgb(21,32,64)"/>
</g>
<g filter="url(#bl2)">
<ellipse cx="177.4" cy="419" rx="1.9" ry="1.4" fill="#c0ff90"/>
<ellipse cx="196.5" cy="403.7" rx="1.7" ry="1.3" fill="#c0ff90"/>
<circle cx="208.6" cy="436.8" r="1.2" fill="#90c080"/>
</g></g>
<polyline points="189.5,395.3 181.2,414.5 207.5,411" fill="none" stroke="#c8c8c8" stroke-width="1.5"/>
<rect x="189.5" y="395.3" width="18" height="15.8" fill="none" stroke="#c8c8c8" stroke-width="1.5"/>
<text x="148.90" y="362.00" font-size="8.4" fill="#111" text-anchor="middle" font-weight="bold" textLength="20.5" lengthAdjust="spacingAndGlyphs" transform="rotate(-90 148.90 362.00)" >Day 3</text>
<line x1="150.90" y1="351.70" x2="150.90" y2="371.80" stroke="#111" stroke-width="0.8" />
<text x="148.90" y="420.80" font-size="8.4" fill="#111" text-anchor="middle" font-weight="bold" textLength="27.5" lengthAdjust="spacingAndGlyphs" transform="rotate(-90 148.90 420.80)" >Day 4.5</text>
<line x1="150.90" y1="407.50" x2="150.90" y2="434.20" stroke="#111" stroke-width="0.8" />
</svg>
<svg width="520" height="472" viewBox="0 0 520 472" style="position:absolute;left:0;top:0;filter:none">
<rect x="0.00" y="0.00" width="520.00" height="1.70" fill="#000" />
<rect x="0.00" y="470.40" width="520.00" height="1.60" fill="#000" />
<rect x="0.00" y="0.00" width="1.40" height="472.00" fill="#000" />
<rect x="518.20" y="0.00" width="1.80" height="472.00" fill="#000" />
</svg></body></html>
